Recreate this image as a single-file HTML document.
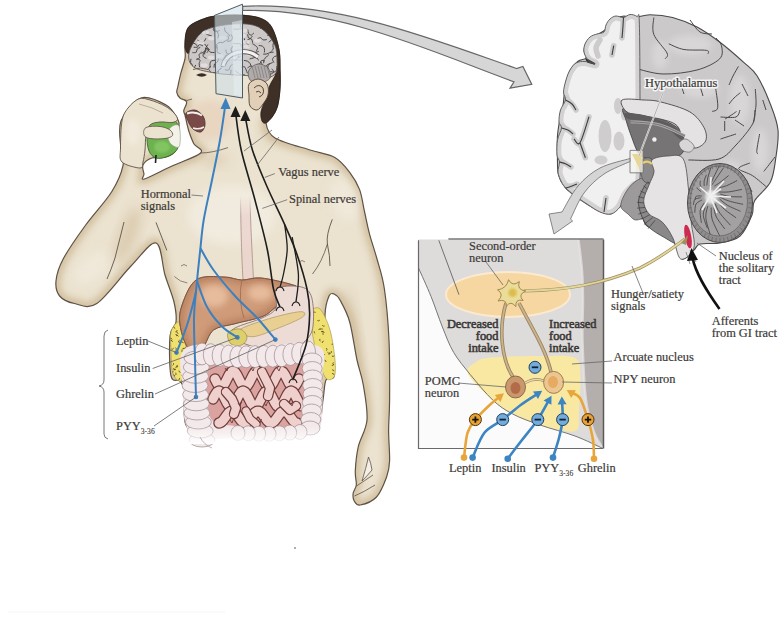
<!DOCTYPE html>
<html><head><meta charset="utf-8">
<style>
html,body{margin:0;padding:0;background:#fff;}
body{width:782px;height:644px;overflow:hidden;position:relative;}
svg{position:absolute;left:0;top:0;}
text{font-family:"Liberation Serif",serif;fill:#3c3a38;}
</style></head><body>
<svg width="782" height="644" viewBox="0 0 782 644">
<defs><filter id="blur3" x="-20%" y="-20%" width="140%" height="140%"><feGaussianBlur stdDeviation="3"/></filter><filter id="blur1"><feGaussianBlur stdDeviation="1"/></filter><linearGradient id="fade" x1="0" y1="0" x2="0" y2="1"><stop offset="0" stop-color="#fff" stop-opacity="0"/><stop offset="1" stop-color="#fff" stop-opacity="1"/></linearGradient></defs>
<clipPath id="silclip"><path d="M185.0,50.0 C185.0,52.3 185.7,54.9 185.0,58.7 C184.3,62.5 182.2,68.2 181.0,72.7 C179.8,77.2 178.7,82.7 178.0,86.0 C177.3,89.3 176.5,90.3 176.8,92.3 C177.1,94.3 178.4,96.4 180.0,98.0 C181.6,99.6 186.0,99.9 186.6,102.0 C187.2,104.1 184.1,108.3 183.8,110.5 C183.5,112.7 184.5,112.8 185.0,115.0 C185.5,117.2 186.3,121.0 187.0,124.0 C187.7,127.0 188.2,129.6 189.4,132.9 C190.6,136.2 192.1,140.7 194.0,144.0 C195.9,147.3 204.3,149.3 200.6,153.0 C196.9,156.7 181.4,161.7 172.0,166.0 C162.6,170.3 149.1,177.7 144.4,179.0 C139.7,180.3 144.2,176.3 144.0,174.0 C143.8,171.7 141.7,167.7 143.0,165.0 C144.3,162.3 148.2,159.3 152.0,158.0 C155.8,156.7 162.0,158.3 166.0,157.0 C170.0,155.7 173.8,154.8 176.0,150.0 C178.2,145.2 178.8,133.3 179.0,128.0 C179.2,122.7 179.2,121.8 177.0,118.0 C174.8,114.2 172.0,108.3 166.0,105.0 C160.0,101.7 148.5,95.3 141.0,98.0 C133.5,100.7 124.3,112.5 121.0,121.0 C117.7,129.5 120.7,141.6 121.0,149.0 C121.3,156.4 124.5,158.5 123.0,165.6 C121.5,172.7 117.9,181.8 111.7,191.7 C105.5,201.6 93.8,213.8 85.7,225.0 C77.6,236.2 68.2,249.5 63.3,258.8 C58.3,268.1 56.6,274.8 56.0,281.0 C55.4,287.2 56.5,292.2 59.6,296.0 C62.7,299.8 68.3,302.2 74.5,303.5 C80.7,304.8 87.4,309.8 96.8,303.5 C106.2,297.2 121.1,276.1 131.0,266.0 C140.9,255.9 150.3,241.5 156.0,243.0 C161.7,244.5 162.0,265.2 165.0,275.0 C168.0,284.8 172.2,294.2 174.0,302.0 C175.8,309.8 176.7,316.3 176.0,322.0 C175.3,327.7 170.8,327.0 170.0,336.0 C169.2,345.0 169.3,368.5 171.0,376.0 C172.7,383.5 177.8,378.3 180.0,381.0 C182.2,383.7 183.0,384.7 184.0,392.0 C185.0,399.3 182.5,417.7 186.0,425.0 C189.5,432.3 194.3,434.5 205.0,436.0 C215.7,437.5 234.2,434.3 250.0,434.0 C265.8,433.7 288.7,435.0 300.0,434.0 C311.3,433.0 314.2,433.7 318.0,428.0 C321.8,422.3 321.7,408.0 323.0,400.0 C324.3,392.0 324.2,384.0 326.0,380.0 C327.8,376.0 333.8,380.7 334.0,376.0 C334.2,371.3 328.5,362.2 327.0,352.0 C325.5,341.8 324.7,324.3 325.0,315.0 C325.3,305.7 327.5,299.5 329.0,296.0 C330.5,292.5 332.2,293.3 334.0,294.0 C335.8,294.7 337.4,295.3 340.0,300.0 C342.6,304.7 346.9,312.0 349.7,322.0 C352.5,332.0 354.7,349.5 357.0,360.0 C359.3,370.5 361.6,375.0 363.3,385.0 C365.0,395.0 367.8,409.7 367.0,420.0 C366.2,430.3 360.2,438.2 358.3,446.7 C356.4,455.2 355.6,464.6 355.3,471.0 C355.0,477.4 356.7,481.3 356.3,485.0 C355.9,488.7 353.6,490.3 353.2,493.0 C352.8,495.7 353.0,499.0 354.2,501.0 C355.4,503.0 356.6,505.7 360.3,505.0 C364.0,504.3 372.1,501.7 376.5,497.0 C380.9,492.3 384.4,483.0 386.6,477.0 C388.8,471.0 389.3,468.6 389.6,460.8 C389.9,453.1 388.6,440.6 388.6,430.5 C388.6,420.4 389.5,415.1 389.6,400.0 C389.7,384.9 389.9,358.5 389.0,340.0 C388.1,321.5 386.4,302.5 384.4,289.0 C382.4,275.5 379.5,268.1 377.0,259.0 C374.5,249.9 371.7,242.1 369.6,234.3 C367.5,226.5 366.3,219.4 364.6,212.0 C362.9,204.6 362.1,196.2 359.6,189.6 C357.1,183.0 353.8,177.7 349.7,172.3 C345.6,166.9 341.4,161.1 334.8,157.4 C328.2,153.7 320.0,153.2 310.0,150.0 C300.0,146.8 282.3,142.5 275.0,138.0 C267.7,133.5 266.5,126.5 266.0,123.0 C265.5,119.5 270.1,119.8 272.0,117.0 C273.9,114.2 276.2,110.8 277.5,106.0 C278.8,101.2 279.6,94.0 280.0,88.0 C280.4,82.0 280.2,76.3 280.0,70.0 C279.8,63.7 280.3,57.0 279.0,50.0 C277.7,43.0 274.8,33.2 272.0,28.0 C269.2,22.8 266.7,21.1 262.0,19.0 C257.3,16.9 251.7,15.9 244.0,15.4 C236.3,14.9 223.0,15.3 216.0,16.0 C209.0,16.7 206.7,17.6 202.0,19.6 C197.3,21.6 190.8,23.8 188.0,28.0 C185.2,32.2 185.5,41.3 185.0,45.0 C184.5,48.7 185.0,47.7 185.0,50.0Z"/></clipPath>
<path d="M185.0,50.0 C185.0,52.3 185.7,54.9 185.0,58.7 C184.3,62.5 182.2,68.2 181.0,72.7 C179.8,77.2 178.7,82.7 178.0,86.0 C177.3,89.3 176.5,90.3 176.8,92.3 C177.1,94.3 178.4,96.4 180.0,98.0 C181.6,99.6 186.0,99.9 186.6,102.0 C187.2,104.1 184.1,108.3 183.8,110.5 C183.5,112.7 184.5,112.8 185.0,115.0 C185.5,117.2 186.3,121.0 187.0,124.0 C187.7,127.0 188.2,129.6 189.4,132.9 C190.6,136.2 192.1,140.7 194.0,144.0 C195.9,147.3 204.3,149.3 200.6,153.0 C196.9,156.7 181.4,161.7 172.0,166.0 C162.6,170.3 149.1,177.7 144.4,179.0 C139.7,180.3 144.2,176.3 144.0,174.0 C143.8,171.7 141.7,167.7 143.0,165.0 C144.3,162.3 148.2,159.3 152.0,158.0 C155.8,156.7 162.0,158.3 166.0,157.0 C170.0,155.7 173.8,154.8 176.0,150.0 C178.2,145.2 178.8,133.3 179.0,128.0 C179.2,122.7 179.2,121.8 177.0,118.0 C174.8,114.2 172.0,108.3 166.0,105.0 C160.0,101.7 148.5,95.3 141.0,98.0 C133.5,100.7 124.3,112.5 121.0,121.0 C117.7,129.5 120.7,141.6 121.0,149.0 C121.3,156.4 124.5,158.5 123.0,165.6 C121.5,172.7 117.9,181.8 111.7,191.7 C105.5,201.6 93.8,213.8 85.7,225.0 C77.6,236.2 68.2,249.5 63.3,258.8 C58.3,268.1 56.6,274.8 56.0,281.0 C55.4,287.2 56.5,292.2 59.6,296.0 C62.7,299.8 68.3,302.2 74.5,303.5 C80.7,304.8 87.4,309.8 96.8,303.5 C106.2,297.2 121.1,276.1 131.0,266.0 C140.9,255.9 150.3,241.5 156.0,243.0 C161.7,244.5 162.0,265.2 165.0,275.0 C168.0,284.8 172.2,294.2 174.0,302.0 C175.8,309.8 176.7,316.3 176.0,322.0 C175.3,327.7 170.8,327.0 170.0,336.0 C169.2,345.0 169.3,368.5 171.0,376.0 C172.7,383.5 177.8,378.3 180.0,381.0 C182.2,383.7 183.0,384.7 184.0,392.0 C185.0,399.3 182.5,417.7 186.0,425.0 C189.5,432.3 194.3,434.5 205.0,436.0 C215.7,437.5 234.2,434.3 250.0,434.0 C265.8,433.7 288.7,435.0 300.0,434.0 C311.3,433.0 314.2,433.7 318.0,428.0 C321.8,422.3 321.7,408.0 323.0,400.0 C324.3,392.0 324.2,384.0 326.0,380.0 C327.8,376.0 333.8,380.7 334.0,376.0 C334.2,371.3 328.5,362.2 327.0,352.0 C325.5,341.8 324.7,324.3 325.0,315.0 C325.3,305.7 327.5,299.5 329.0,296.0 C330.5,292.5 332.2,293.3 334.0,294.0 C335.8,294.7 337.4,295.3 340.0,300.0 C342.6,304.7 346.9,312.0 349.7,322.0 C352.5,332.0 354.7,349.5 357.0,360.0 C359.3,370.5 361.6,375.0 363.3,385.0 C365.0,395.0 367.8,409.7 367.0,420.0 C366.2,430.3 360.2,438.2 358.3,446.7 C356.4,455.2 355.6,464.6 355.3,471.0 C355.0,477.4 356.7,481.3 356.3,485.0 C355.9,488.7 353.6,490.3 353.2,493.0 C352.8,495.7 353.0,499.0 354.2,501.0 C355.4,503.0 356.6,505.7 360.3,505.0 C364.0,504.3 372.1,501.7 376.5,497.0 C380.9,492.3 384.4,483.0 386.6,477.0 C388.8,471.0 389.3,468.6 389.6,460.8 C389.9,453.1 388.6,440.6 388.6,430.5 C388.6,420.4 389.5,415.1 389.6,400.0 C389.7,384.9 389.9,358.5 389.0,340.0 C388.1,321.5 386.4,302.5 384.4,289.0 C382.4,275.5 379.5,268.1 377.0,259.0 C374.5,249.9 371.7,242.1 369.6,234.3 C367.5,226.5 366.3,219.4 364.6,212.0 C362.9,204.6 362.1,196.2 359.6,189.6 C357.1,183.0 353.8,177.7 349.7,172.3 C345.6,166.9 341.4,161.1 334.8,157.4 C328.2,153.7 320.0,153.2 310.0,150.0 C300.0,146.8 282.3,142.5 275.0,138.0 C267.7,133.5 266.5,126.5 266.0,123.0 C265.5,119.5 270.1,119.8 272.0,117.0 C273.9,114.2 276.2,110.8 277.5,106.0 C278.8,101.2 279.6,94.0 280.0,88.0 C280.4,82.0 280.2,76.3 280.0,70.0 C279.8,63.7 280.3,57.0 279.0,50.0 C277.7,43.0 274.8,33.2 272.0,28.0 C269.2,22.8 266.7,21.1 262.0,19.0 C257.3,16.9 251.7,15.9 244.0,15.4 C236.3,14.9 223.0,15.3 216.0,16.0 C209.0,16.7 206.7,17.6 202.0,19.6 C197.3,21.6 190.8,23.8 188.0,28.0 C185.2,32.2 185.5,41.3 185.0,45.0 C184.5,48.7 185.0,47.7 185.0,50.0Z" fill="#ebe2cf" stroke="none" stroke-width="1"/>
<filter id="blur6" x="-50%" y="-50%" width="200%" height="200%"><feGaussianBlur stdDeviation="6"/></filter>
<g clip-path="url(#silclip)"><path d="M185.0,50.0 C185.0,52.3 185.7,54.9 185.0,58.7 C184.3,62.5 182.2,68.2 181.0,72.7 C179.8,77.2 178.7,82.7 178.0,86.0 C177.3,89.3 176.5,90.3 176.8,92.3 C177.1,94.3 178.4,96.4 180.0,98.0 C181.6,99.6 186.0,99.9 186.6,102.0 C187.2,104.1 184.1,108.3 183.8,110.5 C183.5,112.7 184.5,112.8 185.0,115.0 C185.5,117.2 186.3,121.0 187.0,124.0 C187.7,127.0 188.2,129.6 189.4,132.9 C190.6,136.2 192.1,140.7 194.0,144.0 C195.9,147.3 204.3,149.3 200.6,153.0 C196.9,156.7 181.4,161.7 172.0,166.0 C162.6,170.3 149.1,177.7 144.4,179.0 C139.7,180.3 144.2,176.3 144.0,174.0 C143.8,171.7 141.7,167.7 143.0,165.0 C144.3,162.3 148.2,159.3 152.0,158.0 C155.8,156.7 162.0,158.3 166.0,157.0 C170.0,155.7 173.8,154.8 176.0,150.0 C178.2,145.2 178.8,133.3 179.0,128.0 C179.2,122.7 179.2,121.8 177.0,118.0 C174.8,114.2 172.0,108.3 166.0,105.0 C160.0,101.7 148.5,95.3 141.0,98.0 C133.5,100.7 124.3,112.5 121.0,121.0 C117.7,129.5 120.7,141.6 121.0,149.0 C121.3,156.4 124.5,158.5 123.0,165.6 C121.5,172.7 117.9,181.8 111.7,191.7 C105.5,201.6 93.8,213.8 85.7,225.0 C77.6,236.2 68.2,249.5 63.3,258.8 C58.3,268.1 56.6,274.8 56.0,281.0 C55.4,287.2 56.5,292.2 59.6,296.0 C62.7,299.8 68.3,302.2 74.5,303.5 C80.7,304.8 87.4,309.8 96.8,303.5 C106.2,297.2 121.1,276.1 131.0,266.0 C140.9,255.9 150.3,241.5 156.0,243.0 C161.7,244.5 162.0,265.2 165.0,275.0 C168.0,284.8 172.2,294.2 174.0,302.0 C175.8,309.8 176.7,316.3 176.0,322.0 C175.3,327.7 170.8,327.0 170.0,336.0 C169.2,345.0 169.3,368.5 171.0,376.0 C172.7,383.5 177.8,378.3 180.0,381.0 C182.2,383.7 183.0,384.7 184.0,392.0 C185.0,399.3 182.5,417.7 186.0,425.0 C189.5,432.3 194.3,434.5 205.0,436.0 C215.7,437.5 234.2,434.3 250.0,434.0 C265.8,433.7 288.7,435.0 300.0,434.0 C311.3,433.0 314.2,433.7 318.0,428.0 C321.8,422.3 321.7,408.0 323.0,400.0 C324.3,392.0 324.2,384.0 326.0,380.0 C327.8,376.0 333.8,380.7 334.0,376.0 C334.2,371.3 328.5,362.2 327.0,352.0 C325.5,341.8 324.7,324.3 325.0,315.0 C325.3,305.7 327.5,299.5 329.0,296.0 C330.5,292.5 332.2,293.3 334.0,294.0 C335.8,294.7 337.4,295.3 340.0,300.0 C342.6,304.7 346.9,312.0 349.7,322.0 C352.5,332.0 354.7,349.5 357.0,360.0 C359.3,370.5 361.6,375.0 363.3,385.0 C365.0,395.0 367.8,409.7 367.0,420.0 C366.2,430.3 360.2,438.2 358.3,446.7 C356.4,455.2 355.6,464.6 355.3,471.0 C355.0,477.4 356.7,481.3 356.3,485.0 C355.9,488.7 353.6,490.3 353.2,493.0 C352.8,495.7 353.0,499.0 354.2,501.0 C355.4,503.0 356.6,505.7 360.3,505.0 C364.0,504.3 372.1,501.7 376.5,497.0 C380.9,492.3 384.4,483.0 386.6,477.0 C388.8,471.0 389.3,468.6 389.6,460.8 C389.9,453.1 388.6,440.6 388.6,430.5 C388.6,420.4 389.5,415.1 389.6,400.0 C389.7,384.9 389.9,358.5 389.0,340.0 C388.1,321.5 386.4,302.5 384.4,289.0 C382.4,275.5 379.5,268.1 377.0,259.0 C374.5,249.9 371.7,242.1 369.6,234.3 C367.5,226.5 366.3,219.4 364.6,212.0 C362.9,204.6 362.1,196.2 359.6,189.6 C357.1,183.0 353.8,177.7 349.7,172.3 C345.6,166.9 341.4,161.1 334.8,157.4 C328.2,153.7 320.0,153.2 310.0,150.0 C300.0,146.8 282.3,142.5 275.0,138.0 C267.7,133.5 266.5,126.5 266.0,123.0 C265.5,119.5 270.1,119.8 272.0,117.0 C273.9,114.2 276.2,110.8 277.5,106.0 C278.8,101.2 279.6,94.0 280.0,88.0 C280.4,82.0 280.2,76.3 280.0,70.0 C279.8,63.7 280.3,57.0 279.0,50.0 C277.7,43.0 274.8,33.2 272.0,28.0 C269.2,22.8 266.7,21.1 262.0,19.0 C257.3,16.9 251.7,15.9 244.0,15.4 C236.3,14.9 223.0,15.3 216.0,16.0 C209.0,16.7 206.7,17.6 202.0,19.6 C197.3,21.6 190.8,23.8 188.0,28.0 C185.2,32.2 185.5,41.3 185.0,45.0 C184.5,48.7 185.0,47.7 185.0,50.0Z" fill="none" stroke="#cdb996" stroke-width="10" filter="url(#blur3)" opacity="0.8"/>
<ellipse cx="232" cy="215" rx="45" ry="30" transform="rotate(0 232 215)" fill="#f3eee3" opacity="0.8" filter="url(#blur6)"/>
<ellipse cx="345" cy="200" rx="14" ry="22" transform="rotate(-20 345 200)" fill="#f2ece0" opacity="0.7" filter="url(#blur6)"/>
<ellipse cx="92" cy="268" rx="22" ry="12" transform="rotate(-40 92 268)" fill="#f2ece0" opacity="0.7" filter="url(#blur6)"/>
<ellipse cx="135" cy="140" rx="10" ry="18" transform="rotate(0 135 140)" fill="#f2ece0" opacity="0.5" filter="url(#blur6)"/>
<ellipse cx="128" cy="235" rx="8" ry="30" transform="rotate(20 128 235)" fill="#cdb894" opacity="0.55" filter="url(#blur6)"/>
<ellipse cx="352" cy="330" rx="6" ry="40" transform="rotate(-8 352 330)" fill="#cdb894" opacity="0.5" filter="url(#blur6)"/>
<ellipse cx="214" cy="160" rx="14" ry="6" transform="rotate(0 214 160)" fill="#d2bf9e" opacity="0.5" filter="url(#blur6)"/>
<ellipse cx="270" cy="132" rx="8" ry="10" transform="rotate(0 270 132)" fill="#d2bf9e" opacity="0.4" filter="url(#blur6)"/>
</g>
<ellipse cx="210" cy="120" rx="22" ry="20" fill="#e6c8b0" opacity="0.45" filter="url(#blur3)"/>
<path d="M185.0,50.0 C185.0,52.3 185.7,54.9 185.0,58.7 C184.3,62.5 182.2,68.2 181.0,72.7 C179.8,77.2 178.7,82.7 178.0,86.0 C177.3,89.3 176.5,90.3 176.8,92.3 C177.1,94.3 178.4,96.4 180.0,98.0 C181.6,99.6 186.0,99.9 186.6,102.0 C187.2,104.1 184.1,108.3 183.8,110.5 C183.5,112.7 184.5,112.8 185.0,115.0 C185.5,117.2 186.3,121.0 187.0,124.0 C187.7,127.0 188.2,129.6 189.4,132.9 C190.6,136.2 192.1,140.7 194.0,144.0 C195.9,147.3 204.3,149.3 200.6,153.0 C196.9,156.7 181.4,161.7 172.0,166.0 C162.6,170.3 149.1,177.7 144.4,179.0 C139.7,180.3 144.2,176.3 144.0,174.0 C143.8,171.7 141.7,167.7 143.0,165.0 C144.3,162.3 148.2,159.3 152.0,158.0 C155.8,156.7 162.0,158.3 166.0,157.0 C170.0,155.7 173.8,154.8 176.0,150.0 C178.2,145.2 178.8,133.3 179.0,128.0 C179.2,122.7 179.2,121.8 177.0,118.0 C174.8,114.2 172.0,108.3 166.0,105.0 C160.0,101.7 148.5,95.3 141.0,98.0 C133.5,100.7 124.3,112.5 121.0,121.0 C117.7,129.5 120.7,141.6 121.0,149.0 C121.3,156.4 124.5,158.5 123.0,165.6 C121.5,172.7 117.9,181.8 111.7,191.7 C105.5,201.6 93.8,213.8 85.7,225.0 C77.6,236.2 68.2,249.5 63.3,258.8 C58.3,268.1 56.6,274.8 56.0,281.0 C55.4,287.2 56.5,292.2 59.6,296.0 C62.7,299.8 68.3,302.2 74.5,303.5 C80.7,304.8 87.4,309.8 96.8,303.5 C106.2,297.2 121.1,276.1 131.0,266.0 C140.9,255.9 150.3,241.5 156.0,243.0 C161.7,244.5 162.0,265.2 165.0,275.0 C168.0,284.8 172.2,294.2 174.0,302.0 C175.8,309.8 176.7,316.3 176.0,322.0 C175.3,327.7 170.8,327.0 170.0,336.0 C169.2,345.0 169.3,368.5 171.0,376.0 C172.7,383.5 177.8,378.3 180.0,381.0 C182.2,383.7 183.0,384.7 184.0,392.0 C185.0,399.3 182.5,417.7 186.0,425.0 C189.5,432.3 194.3,434.5 205.0,436.0 C215.7,437.5 234.2,434.3 250.0,434.0 C265.8,433.7 288.7,435.0 300.0,434.0 C311.3,433.0 314.2,433.7 318.0,428.0 C321.8,422.3 321.7,408.0 323.0,400.0 C324.3,392.0 324.2,384.0 326.0,380.0 C327.8,376.0 333.8,380.7 334.0,376.0 C334.2,371.3 328.5,362.2 327.0,352.0 C325.5,341.8 324.7,324.3 325.0,315.0 C325.3,305.7 327.5,299.5 329.0,296.0 C330.5,292.5 332.2,293.3 334.0,294.0 C335.8,294.7 337.4,295.3 340.0,300.0 C342.6,304.7 346.9,312.0 349.7,322.0 C352.5,332.0 354.7,349.5 357.0,360.0 C359.3,370.5 361.6,375.0 363.3,385.0 C365.0,395.0 367.8,409.7 367.0,420.0 C366.2,430.3 360.2,438.2 358.3,446.7 C356.4,455.2 355.6,464.6 355.3,471.0 C355.0,477.4 356.7,481.3 356.3,485.0 C355.9,488.7 353.6,490.3 353.2,493.0 C352.8,495.7 353.0,499.0 354.2,501.0 C355.4,503.0 356.6,505.7 360.3,505.0 C364.0,504.3 372.1,501.7 376.5,497.0 C380.9,492.3 384.4,483.0 386.6,477.0 C388.8,471.0 389.3,468.6 389.6,460.8 C389.9,453.1 388.6,440.6 388.6,430.5 C388.6,420.4 389.5,415.1 389.6,400.0 C389.7,384.9 389.9,358.5 389.0,340.0 C388.1,321.5 386.4,302.5 384.4,289.0 C382.4,275.5 379.5,268.1 377.0,259.0 C374.5,249.9 371.7,242.1 369.6,234.3 C367.5,226.5 366.3,219.4 364.6,212.0 C362.9,204.6 362.1,196.2 359.6,189.6 C357.1,183.0 353.8,177.7 349.7,172.3 C345.6,166.9 341.4,161.1 334.8,157.4 C328.2,153.7 320.0,153.2 310.0,150.0 C300.0,146.8 282.3,142.5 275.0,138.0 C267.7,133.5 266.5,126.5 266.0,123.0 C265.5,119.5 270.1,119.8 272.0,117.0 C273.9,114.2 276.2,110.8 277.5,106.0 C278.8,101.2 279.6,94.0 280.0,88.0 C280.4,82.0 280.2,76.3 280.0,70.0 C279.8,63.7 280.3,57.0 279.0,50.0 C277.7,43.0 274.8,33.2 272.0,28.0 C269.2,22.8 266.7,21.1 262.0,19.0 C257.3,16.9 251.7,15.9 244.0,15.4 C236.3,14.9 223.0,15.3 216.0,16.0 C209.0,16.7 206.7,17.6 202.0,19.6 C197.3,21.6 190.8,23.8 188.0,28.0 C185.2,32.2 185.5,41.3 185.0,45.0 C184.5,48.7 185.0,47.7 185.0,50.0Z" fill="none" stroke="#5e5246" stroke-width="1.2"/>
<rect x="168" y="428" width="170" height="20" fill="url(#fade)"/>
<path d="M266.0,123.0 C267.7,122.3 270.1,119.8 272.0,117.0 C273.9,114.2 276.2,110.8 277.5,106.0 C278.8,101.2 279.6,94.0 280.0,88.0 C280.4,82.0 280.2,76.3 280.0,70.0 C279.8,63.7 280.3,57.0 279.0,50.0 C277.7,43.0 274.8,33.2 272.0,28.0 C269.2,22.8 266.7,21.1 262.0,19.0 C257.3,16.9 251.7,15.9 244.0,15.4 C236.3,14.9 223.0,15.3 216.0,16.0 C209.0,16.7 206.7,17.6 202.0,19.6 C197.3,21.6 190.8,23.8 188.0,28.0 C185.2,32.2 184.8,40.8 185.0,45.0 C185.2,49.2 186.5,54.8 189.0,53.0 C191.5,51.2 195.5,38.4 200.0,34.0 C204.5,29.6 208.7,28.3 216.0,26.6 C223.3,24.9 236.3,23.6 244.0,24.0 C251.7,24.4 257.3,26.3 262.0,29.0 C266.7,31.7 269.5,35.7 272.0,40.0 C274.5,44.3 276.3,49.5 277.0,55.0 C277.7,60.5 277.2,68.0 276.0,73.0 C274.8,78.0 271.8,80.5 270.0,85.0 C268.2,89.5 266.5,95.5 265.0,100.0 C263.5,104.5 261.5,108.5 261.0,112.0 C260.5,115.5 261.2,119.2 262.0,121.0 C262.8,122.8 264.3,123.7 266.0,123.0Z" fill="#3f3027" stroke="#2a201a" stroke-width="0.8"/>
<path d="M189.0,53.0 C190.1,47.5 195.5,38.4 200.0,34.0 C204.5,29.6 208.7,28.3 216.0,26.6 C223.3,24.9 236.3,23.4 244.0,23.8 C251.7,24.2 256.9,25.5 262.0,29.0 C267.1,32.5 272.2,39.6 274.7,44.8 C277.2,50.0 276.8,55.4 277.0,60.0 C277.2,64.7 277.5,69.7 276.0,72.7 C274.5,75.7 271.0,76.8 268.0,78.0 C265.0,79.2 261.0,80.3 258.0,80.0 C255.0,79.7 253.8,76.8 250.0,76.0 C246.2,75.2 240.8,75.5 235.0,75.0 C229.2,74.5 221.9,74.3 215.0,73.0 C208.1,71.7 197.9,70.3 193.6,67.0 C189.3,63.7 187.9,58.5 189.0,53.0Z" fill="#cdc8c8" stroke="#4e4a4a" stroke-width="0.8"/>
<clipPath id="hbclip"><path d="M189.0,53.0 C190.1,47.5 195.5,38.4 200.0,34.0 C204.5,29.6 208.7,28.3 216.0,26.6 C223.3,24.9 236.3,23.4 244.0,23.8 C251.7,24.2 256.9,25.5 262.0,29.0 C267.1,32.5 272.2,39.6 274.7,44.8 C277.2,50.0 276.8,55.4 277.0,60.0 C277.2,64.7 277.5,69.7 276.0,72.7 C274.5,75.7 271.0,76.8 268.0,78.0 C265.0,79.2 261.0,80.3 258.0,80.0 C255.0,79.7 253.8,76.8 250.0,76.0 C246.2,75.2 240.8,75.5 235.0,75.0 C229.2,74.5 221.9,74.3 215.0,73.0 C208.1,71.7 197.9,70.3 193.6,67.0 C189.3,63.7 187.9,58.5 189.0,53.0Z"/></clipPath>
<g clip-path="url(#hbclip)">
<path d="M189.0,29.4 C188.6,29.9 187.0,30.9 186.8,31.9 C186.5,32.8 186.8,34.3 187.4,35.1 C188.0,35.9 189.8,36.4 190.3,36.7" fill="none" stroke="#4a4444" stroke-width="1.0" stroke-linecap="round"/>
<path d="M191.8,36.4 C191.3,36.5 189.7,36.9 188.6,37.0 C187.5,37.1 186.0,36.6 185.3,37.1 C184.6,37.7 184.6,39.8 184.4,40.3" fill="none" stroke="#4a4444" stroke-width="1.0" stroke-linecap="round"/>
<path d="M189.3,46.0 C189.7,45.6 190.7,44.0 191.7,43.7 C192.6,43.3 194.0,43.3 195.0,43.6 C195.9,44.0 196.9,45.6 197.2,46.0" fill="none" stroke="#4a4444" stroke-width="1.0" stroke-linecap="round"/>
<path d="M192.8,52.6 C193.4,52.5 195.4,52.9 196.1,52.4 C196.9,51.8 196.5,50.0 197.1,49.2 C197.7,48.4 199.5,47.8 199.9,47.6" fill="none" stroke="#4a4444" stroke-width="1.0" stroke-linecap="round"/>
<path d="M191.0,59.2 C191.0,59.7 190.4,61.4 190.6,62.5 C190.9,63.5 192.1,64.2 192.4,65.2 C192.7,66.2 192.5,68.0 192.5,68.5" fill="none" stroke="#4a4444" stroke-width="1.0" stroke-linecap="round"/>
<path d="M188.0,67.9 C188.4,68.2 189.6,69.4 190.6,69.9 C191.5,70.5 192.6,71.0 193.6,71.2 C194.7,71.3 196.4,70.7 196.9,70.6" fill="none" stroke="#4a4444" stroke-width="1.0" stroke-linecap="round"/>
<path d="M191.5,74.3 C191.7,73.8 192.3,72.3 192.7,71.3 C193.1,70.2 193.5,69.2 193.9,68.2 C194.4,67.2 195.3,65.8 195.6,65.3" fill="none" stroke="#4a4444" stroke-width="1.0" stroke-linecap="round"/>
<path d="M201.3,27.2 C201.3,26.6 201.4,24.9 201.7,23.9 C201.9,22.8 202.5,21.9 202.9,20.8 C203.4,19.8 204.1,18.3 204.3,17.8" fill="none" stroke="#4a4444" stroke-width="1.0" stroke-linecap="round"/>
<path d="M197.9,34.2 C198.4,34.0 200.1,33.7 201.0,33.0 C201.8,32.4 202.2,31.1 203.0,30.5 C203.9,29.9 205.6,29.6 206.2,29.4" fill="none" stroke="#4a4444" stroke-width="1.0" stroke-linecap="round"/>
<path d="M202.5,45.7 C202.0,45.5 200.2,44.4 199.4,44.6 C198.5,44.9 198.2,46.8 197.3,47.2 C196.4,47.6 194.5,47.2 194.0,47.2" fill="none" stroke="#4a4444" stroke-width="1.0" stroke-linecap="round"/>
<path d="M201.8,53.1 C202.2,52.8 203.8,52.1 204.6,51.3 C205.3,50.6 205.4,48.8 206.2,48.5 C207.0,48.2 208.8,49.3 209.3,49.5" fill="none" stroke="#4a4444" stroke-width="1.0" stroke-linecap="round"/>
<path d="M196.7,59.6 C197.2,59.4 199.2,58.8 199.6,58.0 C200.0,57.2 198.8,55.7 199.1,54.8 C199.4,53.8 201.0,52.7 201.4,52.3" fill="none" stroke="#4a4444" stroke-width="1.0" stroke-linecap="round"/>
<path d="M199.5,66.6 C199.4,66.0 199.1,64.4 199.2,63.3 C199.3,62.2 200.4,60.9 200.0,60.1 C199.7,59.3 197.6,58.8 197.1,58.6" fill="none" stroke="#4a4444" stroke-width="1.0" stroke-linecap="round"/>
<path d="M202.2,75.8 C201.8,75.5 200.6,74.4 199.8,73.6 C199.0,72.8 198.3,71.9 197.5,71.2 C196.6,70.6 195.0,70.0 194.6,69.7" fill="none" stroke="#4a4444" stroke-width="1.0" stroke-linecap="round"/>
<path d="M205.9,30.1 C205.8,30.6 204.9,32.5 205.3,33.3 C205.7,34.1 207.2,34.5 208.2,34.9 C209.3,35.3 210.9,35.7 211.4,35.9" fill="none" stroke="#4a4444" stroke-width="1.0" stroke-linecap="round"/>
<path d="M205.7,38.6 C205.5,39.1 204.9,40.9 204.0,41.4 C203.2,42.0 201.8,42.1 200.7,41.9 C199.7,41.7 198.3,40.6 197.8,40.3" fill="none" stroke="#4a4444" stroke-width="1.0" stroke-linecap="round"/>
<path d="M207.7,44.8 C207.4,45.2 206.4,46.6 206.0,47.6 C205.6,48.6 205.5,49.7 205.2,50.8 C205.0,51.8 204.7,53.5 204.6,54.0" fill="none" stroke="#4a4444" stroke-width="1.0" stroke-linecap="round"/>
<path d="M207.1,52.4 C207.3,52.0 208.8,50.5 208.8,49.6 C208.8,48.7 207.6,47.8 206.9,46.9 C206.2,46.0 205.2,44.7 204.9,44.3" fill="none" stroke="#4a4444" stroke-width="1.0" stroke-linecap="round"/>
<path d="M206.1,58.2 C205.7,57.9 203.7,57.3 203.3,56.4 C202.9,55.6 203.1,54.1 203.6,53.2 C204.0,52.2 205.7,51.4 206.1,51.0" fill="none" stroke="#4a4444" stroke-width="1.0" stroke-linecap="round"/>
<path d="M210.2,67.2 C210.2,66.6 209.8,64.9 210.0,63.9 C210.2,62.8 210.6,61.4 211.4,60.9 C212.1,60.3 214.1,60.5 214.6,60.4" fill="none" stroke="#4a4444" stroke-width="1.0" stroke-linecap="round"/>
<path d="M209.7,75.0 C209.8,74.5 210.5,72.8 210.3,71.8 C210.1,70.8 208.6,69.9 208.7,68.9 C208.7,68.0 210.3,66.7 210.6,66.3" fill="none" stroke="#4a4444" stroke-width="1.0" stroke-linecap="round"/>
<path d="M219.3,30.5 C218.8,30.7 217.3,31.8 216.3,31.7 C215.3,31.7 213.7,30.9 213.4,30.1 C213.0,29.3 214.0,27.5 214.2,26.9" fill="none" stroke="#4a4444" stroke-width="1.0" stroke-linecap="round"/>
<path d="M218.0,37.8 C218.1,37.3 218.6,35.6 218.4,34.5 C218.3,33.5 217.8,32.3 217.1,31.5 C216.5,30.7 214.9,29.9 214.5,29.5" fill="none" stroke="#4a4444" stroke-width="1.0" stroke-linecap="round"/>
<path d="M217.0,45.6 C217.0,46.2 217.3,47.8 217.3,48.9 C217.4,50.0 216.7,51.4 217.2,52.2 C217.7,53.0 219.7,53.4 220.2,53.6" fill="none" stroke="#4a4444" stroke-width="1.0" stroke-linecap="round"/>
<path d="M214.2,52.4 C213.7,52.4 211.9,52.7 210.9,52.4 C210.0,52.0 209.3,51.0 208.4,50.3 C207.5,49.7 206.1,48.8 205.6,48.5" fill="none" stroke="#4a4444" stroke-width="1.0" stroke-linecap="round"/>
<path d="M218.5,59.0 C218.3,59.5 217.9,61.2 217.2,62.1 C216.6,62.9 215.0,63.1 214.5,64.0 C214.0,64.8 214.2,66.7 214.1,67.2" fill="none" stroke="#4a4444" stroke-width="1.0" stroke-linecap="round"/>
<path d="M219.0,70.4 C218.6,70.8 217.4,72.0 216.4,72.4 C215.4,72.8 214.0,72.4 213.1,72.8 C212.2,73.3 211.2,74.8 210.8,75.2" fill="none" stroke="#4a4444" stroke-width="1.0" stroke-linecap="round"/>
<path d="M216.0,75.8 C216.3,75.4 217.8,74.4 218.2,73.4 C218.7,72.5 218.0,71.0 218.5,70.2 C219.0,69.3 220.9,68.8 221.3,68.5" fill="none" stroke="#4a4444" stroke-width="1.0" stroke-linecap="round"/>
<path d="M224.7,27.9 C224.8,28.5 224.5,30.3 225.0,31.2 C225.5,32.1 226.9,32.4 227.7,33.2 C228.5,33.9 229.4,35.3 229.7,35.8" fill="none" stroke="#4a4444" stroke-width="1.0" stroke-linecap="round"/>
<path d="M228.0,35.9 C228.1,36.5 228.9,38.4 228.5,39.2 C228.1,40.0 226.6,40.2 225.6,40.8 C224.7,41.4 223.4,42.3 222.9,42.6" fill="none" stroke="#4a4444" stroke-width="1.0" stroke-linecap="round"/>
<path d="M222.2,42.5 C221.6,42.5 219.8,42.3 218.9,42.7 C217.9,43.1 216.7,43.9 216.3,44.8 C215.9,45.7 216.4,47.5 216.4,48.1" fill="none" stroke="#4a4444" stroke-width="1.0" stroke-linecap="round"/>
<path d="M226.3,55.0 C226.2,55.5 225.4,57.2 225.6,58.2 C225.9,59.2 227.6,59.9 227.7,60.8 C227.7,61.7 226.1,63.0 225.7,63.5" fill="none" stroke="#4a4444" stroke-width="1.0" stroke-linecap="round"/>
<path d="M225.0,60.5 C225.2,60.9 226.6,62.5 226.5,63.4 C226.4,64.3 225.2,65.3 224.3,65.8 C223.4,66.4 221.7,66.6 221.1,66.7" fill="none" stroke="#4a4444" stroke-width="1.0" stroke-linecap="round"/>
<path d="M225.3,69.7 C225.8,69.8 227.8,70.6 228.6,70.1 C229.3,69.7 229.3,68.0 229.9,67.1 C230.4,66.2 231.7,65.0 232.0,64.6" fill="none" stroke="#4a4444" stroke-width="1.0" stroke-linecap="round"/>
<path d="M223.3,77.0 C222.9,76.8 221.3,75.2 220.5,75.4 C219.6,75.5 219.1,77.1 218.3,77.9 C217.5,78.6 216.2,79.7 215.8,80.0" fill="none" stroke="#4a4444" stroke-width="1.0" stroke-linecap="round"/>
<path d="M233.8,29.1 C234.4,29.1 236.0,29.3 237.1,29.3 C238.2,29.3 239.6,28.6 240.4,29.1 C241.3,29.5 241.8,31.4 242.1,31.9" fill="none" stroke="#4a4444" stroke-width="1.0" stroke-linecap="round"/>
<path d="M231.6,34.9 C231.7,35.4 232.6,37.0 232.5,38.0 C232.3,39.0 231.6,40.3 230.7,40.8 C229.9,41.4 228.0,41.2 227.5,41.2" fill="none" stroke="#4a4444" stroke-width="1.0" stroke-linecap="round"/>
<path d="M232.6,46.6 C232.3,47.1 231.1,48.5 231.0,49.5 C231.0,50.5 231.7,51.7 232.3,52.6 C232.8,53.6 233.9,54.8 234.3,55.2" fill="none" stroke="#4a4444" stroke-width="1.0" stroke-linecap="round"/>
<path d="M232.6,53.0 C232.1,53.2 230.6,54.4 229.6,54.4 C228.6,54.4 227.2,53.9 226.6,53.1 C225.9,52.4 226.0,50.4 225.9,49.9" fill="none" stroke="#4a4444" stroke-width="1.0" stroke-linecap="round"/>
<path d="M232.3,58.5 C232.8,58.8 234.2,60.4 235.1,60.4 C235.9,60.3 236.6,58.8 237.5,58.1 C238.4,57.5 239.9,56.8 240.3,56.5" fill="none" stroke="#4a4444" stroke-width="1.0" stroke-linecap="round"/>
<path d="M230.9,70.1 C230.9,70.6 231.1,72.4 230.7,73.4 C230.3,74.3 229.4,75.3 228.5,75.8 C227.6,76.2 225.7,76.1 225.2,76.1" fill="none" stroke="#4a4444" stroke-width="1.0" stroke-linecap="round"/>
<path d="M235.2,75.9 C235.7,75.8 237.5,75.3 238.5,75.7 C239.4,76.1 240.1,77.2 240.7,78.1 C241.3,79.1 241.9,80.6 242.1,81.1" fill="none" stroke="#4a4444" stroke-width="1.0" stroke-linecap="round"/>
<path d="M243.1,29.4 C242.7,29.0 241.0,28.2 240.5,27.3 C240.1,26.4 240.6,25.1 240.3,24.0 C240.0,23.0 239.0,21.6 238.7,21.2" fill="none" stroke="#4a4444" stroke-width="1.0" stroke-linecap="round"/>
<path d="M244.4,38.8 C244.5,39.3 244.8,41.1 245.3,42.0 C245.9,42.8 247.1,43.3 247.8,44.1 C248.5,45.0 249.1,46.5 249.4,47.0" fill="none" stroke="#4a4444" stroke-width="1.0" stroke-linecap="round"/>
<path d="M241.4,46.9 C241.3,46.4 241.1,44.4 240.4,43.8 C239.7,43.3 238.2,43.8 237.1,43.7 C236.0,43.6 234.4,43.5 233.8,43.5" fill="none" stroke="#4a4444" stroke-width="1.0" stroke-linecap="round"/>
<path d="M244.8,53.0 C244.2,52.8 242.6,52.1 241.6,52.1 C240.5,52.2 239.0,52.7 238.5,53.4 C238.1,54.2 238.7,56.2 238.7,56.7" fill="none" stroke="#4a4444" stroke-width="1.0" stroke-linecap="round"/>
<path d="M244.3,60.5 C244.8,60.6 246.6,60.7 247.5,61.2 C248.5,61.7 249.4,62.5 250.0,63.4 C250.6,64.2 251.1,65.9 251.3,66.4" fill="none" stroke="#4a4444" stroke-width="1.0" stroke-linecap="round"/>
<path d="M241.3,67.2 C241.8,67.2 243.7,66.4 244.5,66.9 C245.3,67.3 245.6,68.8 246.1,69.8 C246.5,70.8 247.1,72.3 247.3,72.9" fill="none" stroke="#4a4444" stroke-width="1.0" stroke-linecap="round"/>
<path d="M244.3,74.8 C243.7,74.8 242.0,75.2 241.0,75.0 C240.0,74.7 239.1,73.7 238.2,73.1 C237.3,72.5 236.1,71.4 235.6,71.1" fill="none" stroke="#4a4444" stroke-width="1.0" stroke-linecap="round"/>
<path d="M247.9,30.0 C248.0,30.6 247.9,32.4 248.5,33.3 C249.0,34.1 250.3,35.2 251.2,35.2 C252.0,35.1 253.3,33.4 253.7,33.1" fill="none" stroke="#4a4444" stroke-width="1.0" stroke-linecap="round"/>
<path d="M252.1,36.4 C251.8,36.8 250.8,38.2 249.9,38.9 C249.1,39.5 247.6,39.6 247.0,40.4 C246.4,41.2 246.5,43.1 246.4,43.6" fill="none" stroke="#4a4444" stroke-width="1.0" stroke-linecap="round"/>
<path d="M252.5,42.3 C252.4,41.7 252.3,39.8 251.6,39.1 C251.0,38.4 249.2,38.7 248.5,37.9 C247.9,37.2 247.9,35.3 247.8,34.7" fill="none" stroke="#4a4444" stroke-width="1.0" stroke-linecap="round"/>
<path d="M249.0,51.4 C249.6,51.4 251.3,51.0 252.3,51.2 C253.4,51.4 254.3,52.5 255.3,52.5 C256.4,52.6 257.9,51.6 258.4,51.4" fill="none" stroke="#4a4444" stroke-width="1.0" stroke-linecap="round"/>
<path d="M250.0,58.9 C250.5,58.7 252.1,58.2 253.2,58.0 C254.3,57.7 255.6,57.0 256.4,57.4 C257.3,57.7 258.0,59.6 258.3,60.1" fill="none" stroke="#4a4444" stroke-width="1.0" stroke-linecap="round"/>
<path d="M247.9,67.7 C248.4,67.4 249.9,66.0 250.8,66.1 C251.7,66.2 253.1,67.5 253.3,68.3 C253.5,69.2 252.2,70.9 252.0,71.4" fill="none" stroke="#4a4444" stroke-width="1.0" stroke-linecap="round"/>
<path d="M252.9,78.9 C252.4,78.7 251.0,77.7 250.0,77.4 C248.9,77.1 247.7,77.4 246.7,77.2 C245.6,77.0 244.1,76.2 243.6,76.0" fill="none" stroke="#4a4444" stroke-width="1.0" stroke-linecap="round"/>
<path d="M260.5,28.4 C260.4,27.9 259.8,26.2 259.9,25.2 C259.9,24.1 260.9,22.9 260.6,21.9 C260.4,21.0 258.8,19.9 258.4,19.5" fill="none" stroke="#4a4444" stroke-width="1.0" stroke-linecap="round"/>
<path d="M257.5,38.8 C258.0,38.6 259.7,37.5 260.6,37.7 C261.6,37.9 262.1,39.6 263.1,39.9 C264.0,40.2 265.8,39.7 266.4,39.6" fill="none" stroke="#4a4444" stroke-width="1.0" stroke-linecap="round"/>
<path d="M259.2,45.6 C259.7,45.7 261.5,45.6 262.4,46.1 C263.3,46.6 264.1,47.7 264.4,48.7 C264.8,49.7 264.4,51.5 264.4,52.0" fill="none" stroke="#4a4444" stroke-width="1.0" stroke-linecap="round"/>
<path d="M256.2,51.1 C256.4,50.6 257.7,49.0 257.6,48.1 C257.5,47.2 256.2,46.3 255.4,45.6 C254.6,44.9 253.1,44.1 252.7,43.8" fill="none" stroke="#4a4444" stroke-width="1.0" stroke-linecap="round"/>
<path d="M261.0,62.0 C261.2,62.5 262.2,64.1 262.1,65.1 C262.0,66.1 260.8,66.9 260.4,67.9 C260.1,68.9 260.0,70.6 259.9,71.2" fill="none" stroke="#4a4444" stroke-width="1.0" stroke-linecap="round"/>
<path d="M261.3,69.0 C261.8,68.7 263.3,68.0 264.2,67.4 C265.1,66.8 265.8,65.9 266.7,65.3 C267.6,64.6 269.1,64.0 269.6,63.7" fill="none" stroke="#4a4444" stroke-width="1.0" stroke-linecap="round"/>
<path d="M258.6,76.9 C259.0,77.2 260.2,78.6 261.2,78.8 C262.2,79.1 263.8,78.9 264.5,78.3 C265.2,77.6 265.3,75.6 265.4,75.1" fill="none" stroke="#4a4444" stroke-width="1.0" stroke-linecap="round"/>
<path d="M269.6,27.5 C270.1,27.3 271.7,26.1 272.6,26.3 C273.6,26.4 274.3,27.7 275.1,28.4 C276.0,29.2 277.1,30.3 277.5,30.7" fill="none" stroke="#4a4444" stroke-width="1.0" stroke-linecap="round"/>
<path d="M267.7,35.4 C268.3,35.4 269.9,35.6 271.0,35.5 C272.1,35.5 273.2,34.9 274.3,35.0 C275.3,35.0 276.9,35.6 277.5,35.7" fill="none" stroke="#4a4444" stroke-width="1.0" stroke-linecap="round"/>
<path d="M269.1,42.1 C269.5,41.7 270.6,40.4 271.6,39.8 C272.5,39.3 273.9,39.4 274.7,38.8 C275.5,38.2 276.2,36.5 276.4,36.0" fill="none" stroke="#4a4444" stroke-width="1.0" stroke-linecap="round"/>
<path d="M268.6,54.8 C268.2,55.2 267.0,56.3 266.3,57.1 C265.5,57.9 264.4,58.5 264.0,59.5 C263.6,60.4 263.7,62.2 263.7,62.8" fill="none" stroke="#4a4444" stroke-width="1.0" stroke-linecap="round"/>
<path d="M264.6,61.0 C264.1,60.9 262.1,60.1 261.4,60.6 C260.6,61.0 260.8,63.0 260.1,63.6 C259.4,64.3 257.5,64.4 256.9,64.5" fill="none" stroke="#4a4444" stroke-width="1.0" stroke-linecap="round"/>
<path d="M268.4,70.3 C268.3,69.7 267.6,68.0 267.8,67.0 C267.9,66.0 268.5,64.8 269.3,64.1 C270.0,63.4 271.8,62.9 272.3,62.7" fill="none" stroke="#4a4444" stroke-width="1.0" stroke-linecap="round"/>
<path d="M268.0,75.3 C268.5,75.1 270.1,74.6 271.1,74.0 C272.0,73.5 273.5,72.8 273.6,71.9 C273.8,71.1 272.3,69.5 272.0,69.1" fill="none" stroke="#4a4444" stroke-width="1.0" stroke-linecap="round"/>
<path d="M275.4,30.8 C275.3,30.3 274.6,28.7 274.4,27.7 C274.2,26.6 273.6,25.1 274.1,24.4 C274.6,23.7 276.7,23.6 277.3,23.5" fill="none" stroke="#4a4444" stroke-width="1.0" stroke-linecap="round"/>
<path d="M278.4,34.7 C278.9,34.9 280.6,35.4 281.4,36.2 C282.1,36.9 282.8,38.2 282.8,39.2 C282.8,40.2 281.6,41.7 281.4,42.2" fill="none" stroke="#4a4444" stroke-width="1.0" stroke-linecap="round"/>
<path d="M273.6,42.5 C273.5,43.0 272.9,44.6 272.9,45.7 C272.8,46.8 273.6,48.0 273.3,49.0 C273.0,49.9 271.4,50.9 271.1,51.3" fill="none" stroke="#4a4444" stroke-width="1.0" stroke-linecap="round"/>
<path d="M273.2,52.2 C272.6,52.3 270.9,52.3 269.9,52.6 C268.8,52.9 267.9,53.7 266.9,53.9 C265.8,54.2 264.1,54.1 263.6,54.1" fill="none" stroke="#4a4444" stroke-width="1.0" stroke-linecap="round"/>
<path d="M273.8,62.3 C273.6,61.8 272.4,60.3 272.5,59.3 C272.6,58.4 273.6,57.2 274.4,56.6 C275.3,56.0 277.1,55.9 277.6,55.8" fill="none" stroke="#4a4444" stroke-width="1.0" stroke-linecap="round"/>
<path d="M276.9,66.6 C276.9,67.2 277.1,69.0 276.7,69.9 C276.2,70.8 275.1,71.8 274.1,72.0 C273.2,72.3 271.4,71.7 270.8,71.6" fill="none" stroke="#4a4444" stroke-width="1.0" stroke-linecap="round"/>
<path d="M276.2,75.6 C276.4,75.1 276.5,73.1 277.1,72.4 C277.8,71.7 279.3,71.2 280.2,71.4 C281.2,71.6 282.2,73.3 282.6,73.7" fill="none" stroke="#4a4444" stroke-width="1.0" stroke-linecap="round"/>
<ellipse cx="200.8" cy="42.3" rx="3.5" ry="2" fill="#e6e2e2" opacity="0.8"/>
<ellipse cx="242.5" cy="35.8" rx="3.5" ry="2" fill="#e6e2e2" opacity="0.8"/>
<ellipse cx="257.3" cy="40.6" rx="3.5" ry="2" fill="#e6e2e2" opacity="0.8"/>
<ellipse cx="246.2" cy="41.8" rx="3.5" ry="2" fill="#e6e2e2" opacity="0.8"/>
<ellipse cx="211.4" cy="38.3" rx="3.5" ry="2" fill="#e6e2e2" opacity="0.8"/>
<ellipse cx="232.3" cy="58.5" rx="3.5" ry="2" fill="#e6e2e2" opacity="0.8"/>
<ellipse cx="211.3" cy="57.5" rx="3.5" ry="2" fill="#e6e2e2" opacity="0.8"/>
<ellipse cx="220.1" cy="56.0" rx="3.5" ry="2" fill="#e6e2e2" opacity="0.8"/>
<ellipse cx="222.6" cy="37.7" rx="3.5" ry="2" fill="#e6e2e2" opacity="0.8"/>
<ellipse cx="205.6" cy="32.3" rx="3.5" ry="2" fill="#e6e2e2" opacity="0.8"/>
<ellipse cx="247.2" cy="46.5" rx="3.5" ry="2" fill="#e6e2e2" opacity="0.8"/>
<ellipse cx="204.2" cy="65.2" rx="3.5" ry="2" fill="#e6e2e2" opacity="0.8"/>
<ellipse cx="244.1" cy="30.8" rx="3.5" ry="2" fill="#e6e2e2" opacity="0.8"/>
<ellipse cx="249.4" cy="53.8" rx="3.5" ry="2" fill="#e6e2e2" opacity="0.8"/>
</g>
<path d="M249.0,70.0 C250.3,67.3 254.8,64.3 258.0,64.0 C261.2,63.7 266.0,65.7 268.0,68.0 C270.0,70.3 271.3,75.5 270.0,78.0 C268.7,80.5 263.3,82.7 260.0,83.0 C256.7,83.3 251.8,82.2 250.0,80.0 C248.2,77.8 247.7,72.7 249.0,70.0Z" fill="#b0aaaa" stroke="#555" stroke-width="0.7"/>
<path d="M252.0,66 l3,12" fill="none" stroke="#666" stroke-width="0.5"/>
<path d="M255.0,66 l3,12" fill="none" stroke="#666" stroke-width="0.5"/>
<path d="M258.0,66 l3,12" fill="none" stroke="#666" stroke-width="0.5"/>
<path d="M261.0,66 l3,12" fill="none" stroke="#666" stroke-width="0.5"/>
<path d="M264.0,66 l3,12" fill="none" stroke="#666" stroke-width="0.5"/>
<path d="M267.0,66 l3,12" fill="none" stroke="#666" stroke-width="0.5"/>
<path d="M223,66 C226,52 246,47 258,57" fill="none" stroke="#5a5555" stroke-width="5"/>
<path d="M223,66 C226,52 246,47 258,57" fill="none" stroke="#f4f2f2" stroke-width="3.2"/>
<path d="M249.0,84.0 C250.5,81.3 255.0,79.0 258.0,79.0 C261.0,79.0 265.3,81.3 267.0,84.0 C268.7,86.7 268.7,91.7 268.0,95.0 C267.3,98.3 264.8,101.5 263.0,104.0 C261.2,106.5 259.2,109.7 257.0,110.0 C254.8,110.3 251.3,108.5 250.0,106.0 C248.7,103.5 249.2,98.7 249.0,95.0 C248.8,91.3 247.5,86.7 249.0,84.0Z" fill="#e2cfb8" stroke="#4e4238" stroke-width="0.9"/>
<path d="M254,88 q5,-5 9,0 q2,7 -4,9 M256,92 q3,-2 5,1" fill="none" stroke="#3e342c" stroke-width="0.9"/>
<path d="M214.5,15.4 L242.5,4.2 L242.5,98 L216,93.7Z" fill="#cfe0e8" stroke="#4d5c62" stroke-width="1.0" fill-opacity="0.6"/>
<path d="M232,22 L242,20 L242,96 L234,95Z" fill="#e8f0f4" stroke="none" stroke-width="1" opacity="0.5"/>
<path d="M216,60 L242,60" fill="none" stroke="#9ab" stroke-width="0.5" opacity="0.5"/>
<path d="M196,75 Q202,71.5 207,75 Q202,78.5 196,75Z" fill="#3a2c24" stroke="none" stroke-width="1"/>
<path d="M193,69.5 Q200,66.5 208,69.5" fill="none" stroke="#6a5040" stroke-width="0.9"/>
<path d="M182,99 Q187,102 192,99" fill="none" stroke="#6a5040" stroke-width="0.8"/>
<path d="M186.0,113.0 C187.2,111.2 192.2,109.5 195.0,110.0 C197.8,110.5 201.3,113.5 203.0,116.0 C204.7,118.5 205.3,122.3 205.0,125.0 C204.7,127.7 203.0,131.3 201.0,132.0 C199.0,132.7 195.2,130.8 193.0,129.0 C190.8,127.2 189.2,123.7 188.0,121.0 C186.8,118.3 184.8,114.8 186.0,113.0Z" fill="#7a4a48" stroke="#4a3230" stroke-width="0.8"/>
<path d="M187,113.5 Q195,111 202,115.5" fill="none" stroke="#f4efe8" stroke-width="2"/>
<path d="M193,128 Q199,130 204,127" fill="none" stroke="#f4efe8" stroke-width="1.5"/>
<path d="M200.6,153 Q212,153 228,147.6" fill="none" stroke="#5e5246" stroke-width="0.8"/>
<path d="M150.0,121.0 C153.0,117.9 160.8,117.5 165.0,117.5 C169.2,117.5 172.7,119.1 175.0,121.0 C177.3,122.9 178.4,125.0 179.0,129.0 C179.6,133.0 179.2,141.2 178.5,145.0 C177.8,148.8 177.1,150.0 175.0,152.0 C172.9,154.0 169.2,156.0 166.0,157.0 C162.8,158.0 158.8,159.0 156.0,158.0 C153.2,157.0 150.5,154.7 149.0,151.0 C147.5,147.3 146.8,141.0 147.0,136.0 C147.2,131.0 147.0,124.1 150.0,121.0Z" fill="#6db24f" stroke="#3c6a2e" stroke-width="0.9"/>
<ellipse cx="162" cy="147" rx="8" ry="6" fill="#8fd070" opacity="0.6" filter="url(#blur1)"/>
<path d="M170.0,128.0 C171.8,126.0 177.4,123.0 179.0,126.0 C180.6,129.0 180.7,142.8 179.5,146.0 C178.3,149.2 173.9,146.3 172.0,145.0 C170.1,143.7 168.3,140.8 168.0,138.0 C167.7,135.2 168.2,130.0 170.0,128.0Z" fill="#f3f1e8" stroke="#8a9a80" stroke-width="0.6"/>
<path d="M156,155 L155.5,163" fill="none" stroke="#222" stroke-width="1.6"/>
<path d="M122.0,121.0 C123.2,114.3 125.2,111.7 128.0,108.0 C130.8,104.3 135.3,100.1 139.0,98.8 C142.7,97.5 145.7,98.8 150.0,100.0 C154.3,101.2 161.0,103.8 165.0,106.0 C169.0,108.2 171.9,110.8 174.0,113.0 C176.1,115.2 177.8,117.9 177.5,119.5 C177.2,121.1 174.9,122.1 172.0,122.5 C169.1,122.9 163.7,121.6 160.0,122.0 C156.3,122.4 152.3,122.8 150.0,125.0 C147.7,127.2 146.8,130.8 146.0,135.0 C145.2,139.2 145.5,145.5 145.0,150.0 C144.5,154.5 143.8,159.0 143.0,162.0 C142.2,165.0 143.5,168.0 140.0,168.0 C136.5,168.0 125.2,165.3 122.0,162.0 C118.8,158.7 120.5,154.8 120.5,148.0 C120.5,141.2 120.8,127.7 122.0,121.0Z" fill="#ebe2cf" stroke="#5e5246" stroke-width="0.9"/>
<path d="M146.0,127.5 C148.7,126.1 156.0,126.1 160.0,126.5 C164.0,126.9 167.9,128.5 170.0,130.0 C172.1,131.5 173.3,134.1 172.5,135.5 C171.7,136.9 168.8,138.0 165.0,138.5 C161.2,139.0 153.5,139.1 150.0,138.5 C146.5,137.9 144.7,136.8 144.0,135.0 C143.3,133.2 143.3,128.9 146.0,127.5Z" fill="#ebe2cf" stroke="#5e5246" stroke-width="0.8"/>
<path d="M139,104 Q152,107 163,113" fill="none" stroke="#9a8a76" stroke-width="0.6"/>
<ellipse cx="133" cy="132" rx="8" ry="14" fill="#f4eee2" opacity="0.7" filter="url(#blur3)"/>
<path d="M124,222 Q119,242 115,258 Q111,270 107,279" fill="none" stroke="#5e5246" stroke-width="0.9"/>
<path d="M156,222.4 L166.8,250.4" fill="none" stroke="#5e5246" stroke-width="0.9"/>
<path d="M181,266 q3,-3 6,0 M174.3,276.5 Q180,282 187.4,283 M299,262 q3,-3 6,0" fill="none" stroke="#7a6a58" stroke-width="0.8"/>
<path d="M332.3,219.4 Q326,235 327.4,244 Q330,256 330,266" fill="none" stroke="#5e5246" stroke-width="0.9"/>
<path d="M327.4,244 Q322,262 312.5,274" fill="none" stroke="#5e5246" stroke-width="0.8"/>
<path d="M368.5,457 Q366,468 362,481 Q367,476 372,470 Q371,463 368.5,457Z" fill="#f4f0e8" stroke="#5e5246" stroke-width="0.8"/>
<path d="M356.5,486 Q364,481 373,475 M354.5,496 Q364,492 375,485" fill="none" stroke="#5e5246" stroke-width="0.8"/>
<linearGradient id="esof" x1="0" y1="0" x2="0" y2="1"><stop offset="0" stop-color="#ead2cc" stop-opacity="0"/><stop offset="0.25" stop-color="#ead2cc" stop-opacity="1"/></linearGradient>
<linearGradient id="esol" x1="0" y1="0" x2="0" y2="1"><stop offset="0" stop-color="#a88c84" stop-opacity="0"/><stop offset="0.25" stop-color="#a88c84" stop-opacity="1"/></linearGradient>
<path d="M240.5,196 C241,240 242,262 243,280 L253.5,280 C252,250 250.5,225 250,196Z" fill="url(#esof)" stroke="none" stroke-width="1" opacity="0.75"/>
<path d="M240.5,196 C241,240 242,262 243,280 M250,196 C250.5,225 252,250 253.5,280" fill="none" stroke="url(#esol)" stroke-width="0.8"/>
<path d="M171.0,332.0 C172.2,327.3 175.7,322.7 178.0,322.0 C180.3,321.3 183.7,323.3 185.0,328.0 C186.3,332.7 186.0,341.9 186.0,350.0 C186.0,358.1 186.2,371.4 185.0,376.6 C183.8,381.8 181.1,381.8 179.0,381.0 C176.9,380.2 173.8,377.2 172.5,372.0 C171.2,366.8 171.2,356.7 171.0,350.0 C170.8,343.3 169.8,336.7 171.0,332.0Z" fill="#f0e070" stroke="#a09040" stroke-width="0.6"/>
<path d="M311.0,312.0 C312.3,308.5 316.8,306.0 320.0,309.0 C323.2,312.0 327.5,321.5 330.0,330.0 C332.5,338.5 334.3,352.2 335.0,360.0 C335.7,367.8 335.7,374.2 334.0,377.0 C332.3,379.8 328.0,381.5 325.0,377.0 C322.0,372.5 318.2,357.8 316.0,350.0 C313.8,342.2 312.8,336.3 312.0,330.0 C311.2,323.7 309.7,315.5 311.0,312.0Z" fill="#f0e070" stroke="#a09040" stroke-width="0.6"/>
<clipPath id="fatclip"><path d="M171.0,332.0 C172.2,327.3 175.7,322.7 178.0,322.0 C180.3,321.3 183.7,323.3 185.0,328.0 C186.3,332.7 186.0,341.9 186.0,350.0 C186.0,358.1 186.2,371.4 185.0,376.6 C183.8,381.8 181.1,381.8 179.0,381.0 C176.9,380.2 173.8,377.2 172.5,372.0 C171.2,366.8 171.2,356.7 171.0,350.0 C170.8,343.3 169.8,336.7 171.0,332.0Z"/><path d="M311.0,312.0 C312.3,308.5 316.8,306.0 320.0,309.0 C323.2,312.0 327.5,321.5 330.0,330.0 C332.5,338.5 334.3,352.2 335.0,360.0 C335.7,367.8 335.7,374.2 334.0,377.0 C332.3,379.8 328.0,381.5 325.0,377.0 C322.0,372.5 318.2,357.8 316.0,350.0 C313.8,342.2 312.8,336.3 312.0,330.0 C311.2,323.7 309.7,315.5 311.0,312.0Z"/></clipPath>
<g clip-path="url(#fatclip)">
<path d="M181.0,365.0 q1.3,-0.7 0.7,-2.3" fill="none" stroke="#4a3e18" stroke-width="0.8"/>
<path d="M186.1,364.9 q1.4,0.5 2.1,-1.1" fill="none" stroke="#4a3e18" stroke-width="0.8"/>
<path d="M171.5,349.0 q1.4,0.6 2.2,-0.8" fill="none" stroke="#4a3e18" stroke-width="0.8"/>
<path d="M181.4,374.3 q0.1,1.5 1.8,1.6" fill="none" stroke="#4a3e18" stroke-width="0.8"/>
<path d="M178.5,336.3 q-0.7,-1.3 -2.3,-0.6" fill="none" stroke="#4a3e18" stroke-width="0.8"/>
<path d="M180.2,322.8 q-0.8,1.2 0.5,2.3" fill="none" stroke="#4a3e18" stroke-width="0.8"/>
<path d="M175.5,375.1 q1.2,-0.9 0.2,-2.4" fill="none" stroke="#4a3e18" stroke-width="0.8"/>
<path d="M173.6,368.2 q-0.2,1.5 1.5,1.8" fill="none" stroke="#4a3e18" stroke-width="0.8"/>
<path d="M180.9,329.3 q1.0,1.1 2.4,0.0" fill="none" stroke="#4a3e18" stroke-width="0.8"/>
<path d="M184.9,334.1 q-0.8,1.3 0.5,2.3" fill="none" stroke="#4a3e18" stroke-width="0.8"/>
<path d="M186.7,372.6 q-1.3,0.8 -0.6,2.3" fill="none" stroke="#4a3e18" stroke-width="0.8"/>
<path d="M186.4,353.3 q0.5,-1.4 -1.1,-2.2" fill="none" stroke="#4a3e18" stroke-width="0.8"/>
<path d="M174.3,376.6 q0.6,-1.4 -0.9,-2.2" fill="none" stroke="#4a3e18" stroke-width="0.8"/>
<path d="M186.5,373.8 q-1.3,0.7 -0.7,2.3" fill="none" stroke="#4a3e18" stroke-width="0.8"/>
<path d="M176.8,331.6 q-0.2,1.5 1.5,1.9" fill="none" stroke="#4a3e18" stroke-width="0.8"/>
<path d="M172.0,339.5 q-0.2,-1.5 -1.9,-1.4" fill="none" stroke="#4a3e18" stroke-width="0.8"/>
<path d="M171.1,361.3 q-1.5,0.3 -1.3,2.0" fill="none" stroke="#4a3e18" stroke-width="0.8"/>
<path d="M176.0,369.5 q-1.2,-0.9 -2.4,0.3" fill="none" stroke="#4a3e18" stroke-width="0.8"/>
<path d="M176.1,349.9 q0.7,-1.3 -0.7,-2.3" fill="none" stroke="#4a3e18" stroke-width="0.8"/>
<path d="M171.9,378.6 q0.9,1.2 2.4,0.3" fill="none" stroke="#4a3e18" stroke-width="0.8"/>
<path d="M183.0,371.0 q0.9,1.2 2.4,0.3" fill="none" stroke="#4a3e18" stroke-width="0.8"/>
<path d="M183.6,343.2 q-0.4,-1.4 -2.1,-1.1" fill="none" stroke="#4a3e18" stroke-width="0.8"/>
<path d="M171.1,324.7 q-0.5,1.4 1.0,2.2" fill="none" stroke="#4a3e18" stroke-width="0.8"/>
<path d="M186.3,333.4 q1.1,-1.0 0.1,-2.4" fill="none" stroke="#4a3e18" stroke-width="0.8"/>
<path d="M185.9,376.6 q-1.5,0.3 -1.3,2.0" fill="none" stroke="#4a3e18" stroke-width="0.8"/>
<path d="M176.7,352.4 q1.2,-0.9 0.4,-2.4" fill="none" stroke="#4a3e18" stroke-width="0.8"/>
<path d="M172.7,365.4 q1.3,-0.7 0.7,-2.3" fill="none" stroke="#4a3e18" stroke-width="0.8"/>
<path d="M184.8,324.1 q1.3,0.7 2.3,-0.8" fill="none" stroke="#4a3e18" stroke-width="0.8"/>
<path d="M172.5,341.8 q-0.1,-1.5 -1.8,-1.5" fill="none" stroke="#4a3e18" stroke-width="0.8"/>
<path d="M185.7,341.7 q1.4,0.5 2.1,-1.1" fill="none" stroke="#4a3e18" stroke-width="0.8"/>
<path d="M179.7,340.1 q-1.4,0.5 -1.0,2.2" fill="none" stroke="#4a3e18" stroke-width="0.8"/>
<path d="M173.8,326.5 q-0.2,1.5 1.4,1.9" fill="none" stroke="#4a3e18" stroke-width="0.8"/>
<path d="M182.0,379.8 q-0.4,1.5 1.3,2.0" fill="none" stroke="#4a3e18" stroke-width="0.8"/>
<path d="M171.8,379.2 q-0.8,-1.3 -2.3,-0.5" fill="none" stroke="#4a3e18" stroke-width="0.8"/>
<path d="M177.5,335.8 q-0.3,-1.5 -2.0,-1.3" fill="none" stroke="#4a3e18" stroke-width="0.8"/>
<path d="M184.2,348.4 q-1.4,-0.5 -2.1,1.1" fill="none" stroke="#4a3e18" stroke-width="0.8"/>
<path d="M171.9,375.1 q0.8,1.3 2.3,0.5" fill="none" stroke="#4a3e18" stroke-width="0.8"/>
<path d="M178.9,370.6 q-0.1,1.5 1.6,1.8" fill="none" stroke="#4a3e18" stroke-width="0.8"/>
<path d="M182.7,377.1 q0.1,-1.5 -1.6,-1.8" fill="none" stroke="#4a3e18" stroke-width="0.8"/>
<path d="M183.6,328.2 q-1.4,-0.6 -2.2,1.0" fill="none" stroke="#4a3e18" stroke-width="0.8"/>
<path d="M173.4,371.0 q-1.3,0.7 -0.7,2.3" fill="none" stroke="#4a3e18" stroke-width="0.8"/>
<path d="M178.3,380.0 q1.5,-0.2 1.4,-1.9" fill="none" stroke="#4a3e18" stroke-width="0.8"/>
<path d="M186.6,348.3 q-1.1,-1.0 -2.4,0.2" fill="none" stroke="#4a3e18" stroke-width="0.8"/>
<path d="M182.7,349.8 q-1.3,0.7 -0.6,2.3" fill="none" stroke="#4a3e18" stroke-width="0.8"/>
<path d="M177.5,330.5 q-1.5,-0.0 -1.7,1.7" fill="none" stroke="#4a3e18" stroke-width="0.8"/>
<path d="M186.8,377.7 q0.0,-1.5 -1.7,-1.7" fill="none" stroke="#4a3e18" stroke-width="0.8"/>
<path d="M179.0,341.6 q0.3,1.5 2.0,1.3" fill="none" stroke="#4a3e18" stroke-width="0.8"/>
<path d="M175.4,367.4 q1.5,-0.1 1.6,-1.8" fill="none" stroke="#4a3e18" stroke-width="0.8"/>
<path d="M176.8,367.6 q1.2,-0.9 0.4,-2.4" fill="none" stroke="#4a3e18" stroke-width="0.8"/>
<path d="M182.1,360.5 q1.1,-1.0 0.1,-2.4" fill="none" stroke="#4a3e18" stroke-width="0.8"/>
<path d="M319.7,357.2 q-1.3,0.8 -0.5,2.4" fill="none" stroke="#4a3e18" stroke-width="0.8"/>
<path d="M322.7,361.6 q0.6,-1.4 -0.9,-2.2" fill="none" stroke="#4a3e18" stroke-width="0.8"/>
<path d="M318.1,373.4 q0.3,-1.5 -1.4,-1.9" fill="none" stroke="#4a3e18" stroke-width="0.8"/>
<path d="M324.9,310.8 q-0.7,-1.3 -2.3,-0.7" fill="none" stroke="#4a3e18" stroke-width="0.8"/>
<path d="M317.0,355.0 q-1.3,-0.8 -2.3,0.6" fill="none" stroke="#4a3e18" stroke-width="0.8"/>
<path d="M330.6,353.4 q1.3,-0.7 0.7,-2.3" fill="none" stroke="#4a3e18" stroke-width="0.8"/>
<path d="M319.3,353.2 q1.0,-1.1 -0.2,-2.4" fill="none" stroke="#4a3e18" stroke-width="0.8"/>
<path d="M330.9,333.5 q1.5,-0.3 1.3,-2.0" fill="none" stroke="#4a3e18" stroke-width="0.8"/>
<path d="M331.9,356.1 q1.2,0.9 2.4,-0.4" fill="none" stroke="#4a3e18" stroke-width="0.8"/>
<path d="M334.0,344.7 q-0.8,-1.2 -2.4,-0.4" fill="none" stroke="#4a3e18" stroke-width="0.8"/>
<path d="M315.0,366.1 q1.4,0.6 2.2,-0.9" fill="none" stroke="#4a3e18" stroke-width="0.8"/>
<path d="M322.5,356.3 q0.9,-1.2 -0.5,-2.4" fill="none" stroke="#4a3e18" stroke-width="0.8"/>
<path d="M328.5,321.5 q1.3,-0.8 0.4,-2.4" fill="none" stroke="#4a3e18" stroke-width="0.8"/>
<path d="M324.9,354.6 q-1.4,-0.4 -2.1,1.1" fill="none" stroke="#4a3e18" stroke-width="0.8"/>
<path d="M326.0,361.9 q0.1,-1.5 -1.6,-1.8" fill="none" stroke="#4a3e18" stroke-width="0.8"/>
<path d="M328.3,311.9 q-0.3,1.5 1.3,2.0" fill="none" stroke="#4a3e18" stroke-width="0.8"/>
<path d="M321.6,353.6 q-0.9,1.2 0.5,2.4" fill="none" stroke="#4a3e18" stroke-width="0.8"/>
<path d="M327.5,352.3 q0.7,1.3 2.3,0.6" fill="none" stroke="#4a3e18" stroke-width="0.8"/>
<path d="M322.3,325.2 q0.6,1.4 2.3,0.8" fill="none" stroke="#4a3e18" stroke-width="0.8"/>
<path d="M314.2,331.3 q-0.5,1.4 1.0,2.2" fill="none" stroke="#4a3e18" stroke-width="0.8"/>
<path d="M315.6,312.4 q-1.3,-0.8 -2.3,0.5" fill="none" stroke="#4a3e18" stroke-width="0.8"/>
<path d="M320.1,351.0 q-0.3,-1.5 -2.0,-1.3" fill="none" stroke="#4a3e18" stroke-width="0.8"/>
<path d="M316.7,370.5 q1.0,1.1 2.4,0.0" fill="none" stroke="#4a3e18" stroke-width="0.8"/>
<path d="M320.7,328.7 q-1.5,-0.3 -2.0,1.3" fill="none" stroke="#4a3e18" stroke-width="0.8"/>
<path d="M313.8,365.7 q-1.5,-0.0 -1.7,1.7" fill="none" stroke="#4a3e18" stroke-width="0.8"/>
<path d="M311.9,351.1 q0.3,1.5 2.0,1.3" fill="none" stroke="#4a3e18" stroke-width="0.8"/>
<path d="M324.1,332.7 q-0.4,-1.4 -2.1,-1.2" fill="none" stroke="#4a3e18" stroke-width="0.8"/>
<path d="M334.0,364.8 q-1.4,-0.4 -2.1,1.2" fill="none" stroke="#4a3e18" stroke-width="0.8"/>
<path d="M330.5,353.0 q-1.5,0.0 -1.6,1.8" fill="none" stroke="#4a3e18" stroke-width="0.8"/>
<path d="M314.4,349.9 q-0.5,-1.4 -2.2,-0.9" fill="none" stroke="#4a3e18" stroke-width="0.8"/>
<path d="M334.0,374.9 q-0.1,-1.5 -1.9,-1.5" fill="none" stroke="#4a3e18" stroke-width="0.8"/>
<path d="M319.4,369.9 q1.0,1.1 2.4,0.0" fill="none" stroke="#4a3e18" stroke-width="0.8"/>
<path d="M313.6,347.9 q-0.1,-1.5 -1.8,-1.6" fill="none" stroke="#4a3e18" stroke-width="0.8"/>
<path d="M314.4,352.2 q1.5,0.2 1.9,-1.5" fill="none" stroke="#4a3e18" stroke-width="0.8"/>
<path d="M320.0,338.9 q-0.9,1.2 0.4,2.4" fill="none" stroke="#4a3e18" stroke-width="0.8"/>
<path d="M318.0,375.2 q-1.5,-0.1 -1.7,1.6" fill="none" stroke="#4a3e18" stroke-width="0.8"/>
<path d="M334.1,371.2 q-0.3,-1.5 -2.0,-1.4" fill="none" stroke="#4a3e18" stroke-width="0.8"/>
<path d="M317.2,375.7 q-1.1,-1.0 -2.4,0.1" fill="none" stroke="#4a3e18" stroke-width="0.8"/>
<path d="M321.0,331.4 q1.1,1.0 2.4,-0.2" fill="none" stroke="#4a3e18" stroke-width="0.8"/>
<path d="M322.8,329.2 q-1.2,-0.9 -2.4,0.4" fill="none" stroke="#4a3e18" stroke-width="0.8"/>
<path d="M313.9,351.7 q-1.4,-0.6 -2.2,0.8" fill="none" stroke="#4a3e18" stroke-width="0.8"/>
<path d="M318.0,362.4 q1.4,-0.4 1.1,-2.1" fill="none" stroke="#4a3e18" stroke-width="0.8"/>
<path d="M311.3,345.7 q-1.2,0.9 -0.4,2.4" fill="none" stroke="#4a3e18" stroke-width="0.8"/>
<path d="M333.4,362.4 q-1.0,1.1 0.1,2.4" fill="none" stroke="#4a3e18" stroke-width="0.8"/>
<path d="M317.4,320.4 q1.1,1.0 2.4,-0.2" fill="none" stroke="#4a3e18" stroke-width="0.8"/>
<path d="M318.0,350.7 q-1.2,-0.9 -2.4,0.4" fill="none" stroke="#4a3e18" stroke-width="0.8"/>
<path d="M326.5,350.5 q1.0,-1.1 -0.1,-2.4" fill="none" stroke="#4a3e18" stroke-width="0.8"/>
<path d="M313.8,360.9 q-1.3,0.7 -0.7,2.3" fill="none" stroke="#4a3e18" stroke-width="0.8"/>
<path d="M323.8,332.5 q-1.3,0.7 -0.7,2.3" fill="none" stroke="#4a3e18" stroke-width="0.8"/>
<path d="M323.7,341.1 q-1.5,0.1 -1.5,1.8" fill="none" stroke="#4a3e18" stroke-width="0.8"/>
</g>
<path d="M181.0,308.5 C183.5,300.2 188.8,285.2 196.0,280.0 C203.2,274.8 216.4,277.0 224.0,277.0 C231.6,277.0 235.5,279.8 241.7,280.0 C247.9,280.2 252.7,277.2 261.0,278.0 C269.3,278.8 286.2,282.8 291.7,284.6 C297.2,286.4 296.9,285.0 294.0,289.0 C291.1,293.0 279.5,303.8 274.0,308.5 C268.5,313.2 267.5,314.5 261.0,317.0 C254.5,319.5 242.9,321.5 235.0,323.7 C227.1,325.9 218.9,326.0 213.5,330.0 C208.1,334.0 206.6,344.3 202.6,347.6 C198.6,350.9 193.2,352.7 189.6,349.8 C186.0,346.9 182.4,336.9 181.0,330.0 C179.6,323.1 178.5,316.8 181.0,308.5Z" fill="#cf9b79" stroke="#7a5040" stroke-width="0.8"/>
<clipPath id="livclip"><path d="M181.0,308.5 C183.5,300.2 188.8,285.2 196.0,280.0 C203.2,274.8 216.4,277.0 224.0,277.0 C231.6,277.0 235.5,279.8 241.7,280.0 C247.9,280.2 252.7,277.2 261.0,278.0 C269.3,278.8 286.2,282.8 291.7,284.6 C297.2,286.4 296.9,285.0 294.0,289.0 C291.1,293.0 279.5,303.8 274.0,308.5 C268.5,313.2 267.5,314.5 261.0,317.0 C254.5,319.5 242.9,321.5 235.0,323.7 C227.1,325.9 218.9,326.0 213.5,330.0 C208.1,334.0 206.6,344.3 202.6,347.6 C198.6,350.9 193.2,352.7 189.6,349.8 C186.0,346.9 182.4,336.9 181.0,330.0 C179.6,323.1 178.5,316.8 181.0,308.5Z"/></clipPath>
<g clip-path="url(#livclip)">
<path d="M181.0,308.5 C183.5,300.2 188.8,285.2 196.0,280.0 C203.2,274.8 216.4,277.0 224.0,277.0 C231.6,277.0 235.5,279.8 241.7,280.0 C247.9,280.2 252.7,277.2 261.0,278.0 C269.3,278.8 286.2,282.8 291.7,284.6 C297.2,286.4 296.9,285.0 294.0,289.0 C291.1,293.0 279.5,303.8 274.0,308.5 C268.5,313.2 267.5,314.5 261.0,317.0 C254.5,319.5 242.9,321.5 235.0,323.7 C227.1,325.9 218.9,326.0 213.5,330.0 C208.1,334.0 206.6,344.3 202.6,347.6 C198.6,350.9 193.2,352.7 189.6,349.8 C186.0,346.9 182.4,336.9 181.0,330.0 C179.6,323.1 178.5,316.8 181.0,308.5Z" fill="none" stroke="#b07858" stroke-width="8" filter="url(#blur3)" opacity="0.7"/>
<ellipse cx="214" cy="296" rx="14" ry="11" fill="#e6bc9c" filter="url(#blur3)"/>
<ellipse cx="260" cy="293" rx="12" ry="8" fill="#e6bc9c" filter="url(#blur3)"/>
</g>
<path d="M181.0,308.5 C183.5,300.2 188.8,285.2 196.0,280.0 C203.2,274.8 216.4,277.0 224.0,277.0 C231.6,277.0 235.5,279.8 241.7,280.0 C247.9,280.2 252.7,277.2 261.0,278.0 C269.3,278.8 286.2,282.8 291.7,284.6 C297.2,286.4 296.9,285.0 294.0,289.0 C291.1,293.0 279.5,303.8 274.0,308.5 C268.5,313.2 267.5,314.5 261.0,317.0 C254.5,319.5 242.9,321.5 235.0,323.7 C227.1,325.9 218.9,326.0 213.5,330.0 C208.1,334.0 206.6,344.3 202.6,347.6 C198.6,350.9 193.2,352.7 189.6,349.8 C186.0,346.9 182.4,336.9 181.0,330.0 C179.6,323.1 178.5,316.8 181.0,308.5Z" fill="none" stroke="#7a5040" stroke-width="0.8"/>
<path d="M241.7,281 Q238,300 244,318" fill="none" stroke="#9a6a50" stroke-width="0.8"/>
<path d="M276.5,289.0 C280.5,285.4 294.2,285.6 300.0,286.7 C305.8,287.8 308.8,290.0 311.0,295.4 C313.2,300.8 313.8,312.1 313.5,319.0 C313.2,325.9 313.0,331.6 309.0,336.7 C305.0,341.8 298.3,348.0 289.6,349.8 C280.9,351.6 266.8,349.8 257.0,347.6 C247.2,345.4 234.7,340.0 231.0,336.7 C227.3,333.4 229.8,331.1 235.0,328.0 C240.2,324.9 255.2,321.3 262.0,318.0 C268.8,314.7 273.6,312.8 276.0,308.0 C278.4,303.2 272.5,292.6 276.5,289.0Z" fill="#eddcd6" stroke="#7a6460" stroke-width="0.8"/>
<path d="M239.5,330.0 C242.1,327.1 257.9,322.1 268.0,319.0 C278.1,315.9 294.2,312.0 300.0,311.7 C305.8,311.4 306.2,314.3 302.6,317.0 C299.1,319.7 287.0,324.7 278.7,328.0 C270.4,331.3 259.1,336.4 252.6,336.7 C246.1,337.0 236.9,332.9 239.5,330.0Z" fill="#e9d092" stroke="#a08a50" stroke-width="0.6"/>
<path d="M228.0,333.0 C229.5,330.5 236.8,328.3 240.0,329.0 C243.2,329.7 246.7,334.3 247.0,337.0 C247.3,339.7 244.7,343.8 242.0,345.0 C239.3,346.2 233.3,346.0 231.0,344.0 C228.7,342.0 226.5,335.5 228.0,333.0Z" fill="#dccf6c" stroke="#8a7a40" stroke-width="0.6"/>
<path d="M186.0,348.0 C197.2,340.7 228.0,346.3 250.0,346.0 C272.0,345.7 306.0,340.3 318.0,346.0 C330.0,351.7 321.7,366.3 322.0,380.0 C322.3,393.7 323.7,418.7 320.0,428.0 C316.3,437.3 313.3,434.3 300.0,436.0 C286.7,437.7 256.7,437.7 240.0,438.0 C223.3,438.3 209.0,440.2 200.0,438.0 C191.0,435.8 188.8,433.0 186.0,425.0 C183.2,417.0 183.0,402.8 183.0,390.0 C183.0,377.2 174.8,355.3 186.0,348.0Z" fill="#f1e6e7" stroke="none" stroke-width="1"/>
<path d="M209.0,366.0 C216.3,361.2 234.3,366.3 250.0,366.0 C265.7,365.7 293.7,359.2 303.0,364.0 C312.3,368.8 306.0,385.0 306.0,395.0 C306.0,405.0 309.0,418.5 303.0,424.0 C297.0,429.5 281.3,427.7 270.0,428.0 C258.7,428.3 244.7,427.3 235.0,426.0 C225.3,424.7 216.8,425.2 212.0,420.0 C207.2,414.8 206.5,404.0 206.0,395.0 C205.5,386.0 201.7,370.8 209.0,366.0Z" fill="#dba3a0" stroke="none" stroke-width="1"/>
<path d="M215.0,379.0 L217.0,383.0 L219.0,385.9 L221.0,387.0 L223.0,385.9 L225.0,383.0 L227.0,379.0 L229.0,375.0 L231.0,372.1 L233.0,371.0 L235.0,372.1 L237.0,375.0 L239.0,379.0 L241.0,383.0 L243.0,385.9 L245.0,387.0 L247.0,385.9 L249.0,383.0 L251.0,379.0 L253.0,375.0 L255.0,372.1 L257.0,371.0 L259.0,372.1 L261.0,375.0 L263.0,379.0 L265.0,383.0 L267.0,385.9 L269.0,387.0 L271.0,385.9 L273.0,383.0 L275.0,379.0 L277.0,375.0 L279.0,372.1 L281.0,371.0 L283.0,372.1 L285.0,375.0 L287.0,379.0 L289.0,383.0 L291.0,385.9 L293.0,387.0 L295.0,385.9 L297.0,383.0 L299.0,379.0" fill="none" stroke="#6e3c3a" stroke-width="11.4" stroke-linecap="round" stroke-linejoin="round"/>
<path d="M215.0,379.0 L217.0,383.0 L219.0,385.9 L221.0,387.0 L223.0,385.9 L225.0,383.0 L227.0,379.0 L229.0,375.0 L231.0,372.1 L233.0,371.0 L235.0,372.1 L237.0,375.0 L239.0,379.0 L241.0,383.0 L243.0,385.9 L245.0,387.0 L247.0,385.9 L249.0,383.0 L251.0,379.0 L253.0,375.0 L255.0,372.1 L257.0,371.0 L259.0,372.1 L261.0,375.0 L263.0,379.0 L265.0,383.0 L267.0,385.9 L269.0,387.0 L271.0,385.9 L273.0,383.0 L275.0,379.0 L277.0,375.0 L279.0,372.1 L281.0,371.0 L283.0,372.1 L285.0,375.0 L287.0,379.0 L289.0,383.0 L291.0,385.9 L293.0,387.0 L295.0,385.9 L297.0,383.0 L299.0,379.0" fill="none" stroke="#f0d0cc" stroke-width="9" stroke-linecap="round" stroke-linejoin="round"/>
<path d="M213.0,399.0 L215.0,395.0 L217.0,392.1 L219.0,391.0 L221.0,392.1 L223.0,395.0 L225.0,399.0 L227.0,403.0 L229.0,405.9 L231.0,407.0 L233.0,405.9 L235.0,403.0 L237.0,399.0 L239.0,395.0 L241.0,392.1 L243.0,391.0 L245.0,392.1 L247.0,395.0 L249.0,399.0 L251.0,403.0 L253.0,405.9 L255.0,407.0 L257.0,405.9 L259.0,403.0 L261.0,399.0 L263.0,395.0 L265.0,392.1 L267.0,391.0 L269.0,392.1 L271.0,395.0 L273.0,399.0 L275.0,403.0 L277.0,405.9 L279.0,407.0 L281.0,405.9 L283.0,403.0 L285.0,399.0 L287.0,395.0 L289.0,392.1 L291.0,391.0 L293.0,392.1 L295.0,395.0 L297.0,399.0 L299.0,403.0 L301.0,405.9" fill="none" stroke="#6e3c3a" stroke-width="11.4" stroke-linecap="round" stroke-linejoin="round"/>
<path d="M213.0,399.0 L215.0,395.0 L217.0,392.1 L219.0,391.0 L221.0,392.1 L223.0,395.0 L225.0,399.0 L227.0,403.0 L229.0,405.9 L231.0,407.0 L233.0,405.9 L235.0,403.0 L237.0,399.0 L239.0,395.0 L241.0,392.1 L243.0,391.0 L245.0,392.1 L247.0,395.0 L249.0,399.0 L251.0,403.0 L253.0,405.9 L255.0,407.0 L257.0,405.9 L259.0,403.0 L261.0,399.0 L263.0,395.0 L265.0,392.1 L267.0,391.0 L269.0,392.1 L271.0,395.0 L273.0,399.0 L275.0,403.0 L277.0,405.9 L279.0,407.0 L281.0,405.9 L283.0,403.0 L285.0,399.0 L287.0,395.0 L289.0,392.1 L291.0,391.0 L293.0,392.1 L295.0,395.0 L297.0,399.0 L299.0,403.0 L301.0,405.9" fill="none" stroke="#f0d0cc" stroke-width="9" stroke-linecap="round" stroke-linejoin="round"/>
<path d="M219.0,423.0 L221.0,422.3 L223.0,420.4 L225.0,417.7 L227.0,414.9 L229.0,412.5 L231.0,411.2 L233.0,411.2 L235.0,412.5 L237.0,414.9 L239.0,417.7 L241.0,420.4 L243.0,422.3 L245.0,423.0 L247.0,422.3 L249.0,420.4 L251.0,417.7 L253.0,414.9 L255.0,412.5 L257.0,411.2 L259.0,411.2 L261.0,412.5 L263.0,414.9 L265.0,417.7 L267.0,420.4 L269.0,422.3 L271.0,423.0 L273.0,422.3 L275.0,420.4 L277.0,417.7 L279.0,414.9 L281.0,412.5 L283.0,411.2 L285.0,411.2 L287.0,412.5 L289.0,414.9 L291.0,417.7 L293.0,420.4 L295.0,422.3 L297.0,423.0" fill="none" stroke="#6e3c3a" stroke-width="11.4" stroke-linecap="round" stroke-linejoin="round"/>
<path d="M219.0,423.0 L221.0,422.3 L223.0,420.4 L225.0,417.7 L227.0,414.9 L229.0,412.5 L231.0,411.2 L233.0,411.2 L235.0,412.5 L237.0,414.9 L239.0,417.7 L241.0,420.4 L243.0,422.3 L245.0,423.0 L247.0,422.3 L249.0,420.4 L251.0,417.7 L253.0,414.9 L255.0,412.5 L257.0,411.2 L259.0,411.2 L261.0,412.5 L263.0,414.9 L265.0,417.7 L267.0,420.4 L269.0,422.3 L271.0,423.0 L273.0,422.3 L275.0,420.4 L277.0,417.7 L279.0,414.9 L281.0,412.5 L283.0,411.2 L285.0,411.2 L287.0,412.5 L289.0,414.9 L291.0,417.7 L293.0,420.4 L295.0,422.3 L297.0,423.0" fill="none" stroke="#f0d0cc" stroke-width="9" stroke-linecap="round" stroke-linejoin="round"/>
<path d="M262.0,372.0 L266.0,380.0 L270.0,388.0 L268.0,396.0" fill="none" stroke="#6e3c3a" stroke-width="10.4" stroke-linecap="round" stroke-linejoin="round"/>
<path d="M262.0,372.0 L266.0,380.0 L270.0,388.0 L268.0,396.0" fill="none" stroke="#f0d0cc" stroke-width="8" stroke-linecap="round" stroke-linejoin="round"/>
<path d="M226.0,392.0 L232.0,399.0 L236.0,408.0 L234.0,414.0" fill="none" stroke="#6e3c3a" stroke-width="10.4" stroke-linecap="round" stroke-linejoin="round"/>
<path d="M226.0,392.0 L232.0,399.0 L236.0,408.0 L234.0,414.0" fill="none" stroke="#f0d0cc" stroke-width="8" stroke-linecap="round" stroke-linejoin="round"/>
<path d="M284.0,404.0 L290.0,410.0 L296.0,406.0" fill="none" stroke="#6e3c3a" stroke-width="10.4" stroke-linecap="round" stroke-linejoin="round"/>
<path d="M284.0,404.0 L290.0,410.0 L296.0,406.0" fill="none" stroke="#f0d0cc" stroke-width="8" stroke-linecap="round" stroke-linejoin="round"/>
<path d="M246.0,411.0 L250.0,419.0 L256.0,424.0" fill="none" stroke="#6e3c3a" stroke-width="9.4" stroke-linecap="round" stroke-linejoin="round"/>
<path d="M246.0,411.0 L250.0,419.0 L256.0,424.0" fill="none" stroke="#f0d0cc" stroke-width="7" stroke-linecap="round" stroke-linejoin="round"/>
<path d="M227.0,371.0 l1.5,-4 M227.0,371.0 l-2,-3" fill="none" stroke="#6e3c3a" stroke-width="0.9"/>
<path d="M253.0,371.0 l1.5,-4 M253.0,371.0 l-2,-3" fill="none" stroke="#6e3c3a" stroke-width="0.9"/>
<path d="M279.0,371.0 l1.5,-4 M279.0,371.0 l-2,-3" fill="none" stroke="#6e3c3a" stroke-width="0.9"/>
<path d="M240.0,406.0 l1.5,-4 M240.0,406.0 l-2,-3" fill="none" stroke="#6e3c3a" stroke-width="0.9"/>
<path d="M266.0,406.0 l1.5,-4 M266.0,406.0 l-2,-3" fill="none" stroke="#6e3c3a" stroke-width="0.9"/>
<path d="M292.0,406.0 l1.5,-4 M292.0,406.0 l-2,-3" fill="none" stroke="#6e3c3a" stroke-width="0.9"/>
<path d="M232.0,423.0 l1.5,-4 M232.0,423.0 l-2,-3" fill="none" stroke="#6e3c3a" stroke-width="0.9"/>
<path d="M260.0,423.0 l1.5,-4 M260.0,423.0 l-2,-3" fill="none" stroke="#6e3c3a" stroke-width="0.9"/>
<ellipse cx="202.0" cy="440.0" rx="13.0" ry="7.0" fill="#f3e9ea" stroke="#9c8a8c" stroke-width="0.7"/>
<ellipse cx="200.2" cy="431.0" rx="13.0" ry="7.0" fill="#f3e9ea" stroke="#9c8a8c" stroke-width="0.7"/>
<ellipse cx="198.4" cy="422.0" rx="13.0" ry="7.0" fill="#f3e9ea" stroke="#9c8a8c" stroke-width="0.7"/>
<ellipse cx="196.9" cy="413.0" rx="13.0" ry="7.0" fill="#f3e9ea" stroke="#9c8a8c" stroke-width="0.7"/>
<ellipse cx="196.3" cy="403.8" rx="13.0" ry="7.0" fill="#f3e9ea" stroke="#9c8a8c" stroke-width="0.7"/>
<ellipse cx="195.6" cy="394.6" rx="13.0" ry="7.0" fill="#f3e9ea" stroke="#9c8a8c" stroke-width="0.7"/>
<ellipse cx="195.0" cy="385.5" rx="13.0" ry="7.0" fill="#f3e9ea" stroke="#9c8a8c" stroke-width="0.7"/>
<ellipse cx="195.6" cy="376.3" rx="13.0" ry="7.0" fill="#f3e9ea" stroke="#9c8a8c" stroke-width="0.7"/>
<ellipse cx="196.3" cy="367.2" rx="13.0" ry="7.0" fill="#f3e9ea" stroke="#9c8a8c" stroke-width="0.7"/>
<ellipse cx="197.0" cy="358.0" rx="13.0" ry="7.0" fill="#f3e9ea" stroke="#9c8a8c" stroke-width="0.7"/>
<ellipse cx="202.0" cy="354.0" rx="7.5" ry="11.0" fill="#f3e9ea" stroke="#9c8a8c" stroke-width="0.7"/>
<ellipse cx="210.8" cy="354.7" rx="7.5" ry="11.0" fill="#f3e9ea" stroke="#9c8a8c" stroke-width="0.7"/>
<ellipse cx="219.7" cy="355.4" rx="7.5" ry="11.0" fill="#f3e9ea" stroke="#9c8a8c" stroke-width="0.7"/>
<ellipse cx="228.5" cy="356.1" rx="7.5" ry="11.0" fill="#f3e9ea" stroke="#9c8a8c" stroke-width="0.7"/>
<ellipse cx="237.4" cy="356.8" rx="7.5" ry="11.0" fill="#f3e9ea" stroke="#9c8a8c" stroke-width="0.7"/>
<ellipse cx="246.2" cy="356.8" rx="7.5" ry="11.0" fill="#f3e9ea" stroke="#9c8a8c" stroke-width="0.7"/>
<ellipse cx="255.1" cy="356.6" rx="7.5" ry="11.0" fill="#f3e9ea" stroke="#9c8a8c" stroke-width="0.7"/>
<ellipse cx="263.9" cy="356.4" rx="7.5" ry="11.0" fill="#f3e9ea" stroke="#9c8a8c" stroke-width="0.7"/>
<ellipse cx="272.8" cy="356.2" rx="7.5" ry="11.0" fill="#f3e9ea" stroke="#9c8a8c" stroke-width="0.7"/>
<ellipse cx="281.7" cy="355.8" rx="7.5" ry="11.0" fill="#f3e9ea" stroke="#9c8a8c" stroke-width="0.7"/>
<ellipse cx="290.4" cy="354.5" rx="7.5" ry="11.0" fill="#f3e9ea" stroke="#9c8a8c" stroke-width="0.7"/>
<ellipse cx="299.2" cy="353.3" rx="7.5" ry="11.0" fill="#f3e9ea" stroke="#9c8a8c" stroke-width="0.7"/>
<ellipse cx="308.0" cy="352.0" rx="7.5" ry="11.0" fill="#f3e9ea" stroke="#9c8a8c" stroke-width="0.7"/>
<ellipse cx="312.0" cy="360.0" rx="10.0" ry="7.0" fill="#f3e9ea" stroke="#9c8a8c" stroke-width="0.7"/>
<ellipse cx="312.2" cy="368.5" rx="10.0" ry="7.0" fill="#f3e9ea" stroke="#9c8a8c" stroke-width="0.7"/>
<ellipse cx="312.5" cy="377.0" rx="10.0" ry="7.0" fill="#f3e9ea" stroke="#9c8a8c" stroke-width="0.7"/>
<ellipse cx="312.7" cy="385.5" rx="10.0" ry="7.0" fill="#f3e9ea" stroke="#9c8a8c" stroke-width="0.7"/>
<ellipse cx="313.0" cy="394.1" rx="10.0" ry="7.0" fill="#f3e9ea" stroke="#9c8a8c" stroke-width="0.7"/>
<ellipse cx="312.3" cy="402.5" rx="10.0" ry="7.0" fill="#f3e9ea" stroke="#9c8a8c" stroke-width="0.7"/>
<ellipse cx="311.5" cy="411.0" rx="10.0" ry="7.0" fill="#f3e9ea" stroke="#9c8a8c" stroke-width="0.7"/>
<ellipse cx="310.8" cy="419.5" rx="10.0" ry="7.0" fill="#f3e9ea" stroke="#9c8a8c" stroke-width="0.7"/>
<ellipse cx="310.0" cy="428.0" rx="10.0" ry="7.0" fill="#f3e9ea" stroke="#9c8a8c" stroke-width="0.7"/>
<ellipse cx="300.0" cy="432.0" rx="7.0" ry="7.5" fill="#f3e9ea" stroke="#9c8a8c" stroke-width="0.7"/>
<ellipse cx="289.7" cy="432.6" rx="7.0" ry="7.5" fill="#f3e9ea" stroke="#9c8a8c" stroke-width="0.7"/>
<ellipse cx="279.3" cy="433.3" rx="7.0" ry="7.5" fill="#f3e9ea" stroke="#9c8a8c" stroke-width="0.7"/>
<ellipse cx="269.0" cy="433.9" rx="7.0" ry="7.5" fill="#f3e9ea" stroke="#9c8a8c" stroke-width="0.7"/>
<ellipse cx="258.7" cy="433.7" rx="7.0" ry="7.5" fill="#f3e9ea" stroke="#9c8a8c" stroke-width="0.7"/>
<ellipse cx="248.3" cy="433.3" rx="7.0" ry="7.5" fill="#f3e9ea" stroke="#9c8a8c" stroke-width="0.7"/>
<ellipse cx="238.0" cy="433.0" rx="7.0" ry="7.5" fill="#f3e9ea" stroke="#9c8a8c" stroke-width="0.7"/>
<rect x="175" y="426" width="160" height="18" fill="url(#fade)"/>
<path d="M200,437 Q204,445 212,448" fill="none" stroke="#b0a0a0" stroke-width="0.8"/>
<path d="M235.5,112.0 C236.4,118.3 238.0,135.4 241.2,150.0 C244.4,164.6 250.6,183.1 254.9,199.7 C259.2,216.3 264.2,234.6 267.3,249.5 C270.4,264.4 271.4,279.4 273.5,289.0 C275.6,298.6 278.9,304.0 280.0,307.0" fill="none" stroke="#1d1d1d" stroke-width="1.6"/>
<path d="M245.3,117.0 C246.5,122.5 248.7,138.3 252.4,150.0 C256.1,161.7 261.9,174.9 267.3,187.3 C272.7,199.7 279.8,213.4 284.7,224.6 C289.6,235.8 293.3,243.7 297.0,254.4 C300.7,265.1 304.9,278.9 307.0,289.0 C309.1,299.1 309.8,305.7 309.6,315.0 C309.4,324.3 308.8,334.3 306.0,345.0 C303.2,355.7 295.2,373.3 293.0,379.0" fill="none" stroke="#1d1d1d" stroke-width="1.6"/>
<path d="M284.7,224.6 C285.1,228.8 287.4,241.3 287.2,249.5 C287.0,257.7 284.7,267.8 283.5,274.0 C282.3,280.2 280.6,284.8 280.0,287.0" fill="none" stroke="#1d1d1d" stroke-width="1.3"/>
<path d="M292.2,237.0 C293.2,243.2 297.8,263.5 298.4,274.3 C299.0,285.1 296.4,297.4 296.0,302.0" fill="none" stroke="#1d1d1d" stroke-width="1.3"/>
<path d="M230.5,117 L235.5,106 L240.5,117Z" fill="#1d1d1d" stroke="none" stroke-width="1"/>
<path d="M240.3,121 L245.3,110 L250.3,121Z" fill="#1d1d1d" stroke="none" stroke-width="1"/>
<path d="M280,307 q-3,0 -4,4 M280,307 q3,0 4,4" fill="none" stroke="#1d1d1d" stroke-width="1.1"/>
<path d="M280,287 q-3,0 -4,4 M280,287 q3,0 4,4" fill="none" stroke="#1d1d1d" stroke-width="1.1"/>
<path d="M296,302 q-3,0 -4,4 M296,302 q3,0 4,4" fill="none" stroke="#1d1d1d" stroke-width="1.1"/>
<path d="M293,379 q-3,0 -4,4 M293,379 q3,0 4,4" fill="none" stroke="#1d1d1d" stroke-width="1.1"/>
<path d="M225.7,102.0 C224.8,108.3 222.3,127.0 220.0,140.0 C217.7,153.0 214.7,166.7 212.0,180.0 C209.3,193.3 205.6,208.6 203.7,220.0 C201.8,231.4 201.5,238.1 200.4,248.3 C199.3,258.5 198.1,269.4 197.0,281.0 C195.9,292.6 194.3,304.8 194.0,318.0 C193.7,331.2 194.7,346.8 195.0,360.0 C195.3,373.2 195.8,390.8 196.0,397.0" fill="none" stroke="#3c80c0" stroke-width="2"/>
<path d="M200.4,248.3 C202.6,251.9 207.7,262.1 213.5,270.0 C219.3,277.9 227.8,288.0 235.0,296.0 C242.2,304.0 250.3,310.5 257.0,317.8 C263.7,325.1 272.3,336.0 275.4,339.6" fill="none" stroke="#3c80c0" stroke-width="2"/>
<path d="M197.0,281.0 C198.7,285.3 202.8,299.4 207.0,307.0 C211.2,314.6 216.9,321.4 222.0,326.5 C227.1,331.6 234.8,335.6 237.4,337.4" fill="none" stroke="#3c80c0" stroke-width="2"/>
<path d="M196.0,291.7 C194.6,297.1 190.7,313.9 187.4,324.0 C184.2,334.1 178.3,347.8 176.5,352.6" fill="none" stroke="#3c80c0" stroke-width="2"/>
<path d="M220.5,109 L225.7,97.5 L230.5,109Z" fill="#3c80c0" stroke="none" stroke-width="1"/>
<circle cx="237.4" cy="337.4" r="2.3" fill="#3c80c0"/>
<circle cx="275.4" cy="339.6" r="2.3" fill="#3c80c0"/>
<circle cx="176.5" cy="352.6" r="2.3" fill="#3c80c0"/>
<circle cx="196.0" cy="397.0" r="2.3" fill="#3c80c0"/>
<path d="M272,130 L244,151 M279,137 L257.3,165 M274.8,173.6 L264.8,177.4 M287.2,199.7 L262.3,208.4 M191.5,195 L203,196" fill="none" stroke="#6a6a6a" stroke-width="0.8"/>
<path d="M148,341 L176.5,352.6 M152.6,368.5 L237.4,337.4 M155,394 L275.4,339.6 M154,426 L196,397" fill="none" stroke="#5e5e5e" stroke-width="0.8"/>
<path d="M108,330 Q104,331 104,336 L104,380 Q104,385 99,386 Q104,387 104,392 L104,434 Q104,438 108,439" fill="none" stroke="#6a6a6a" stroke-width="0.9"/>
<path d="M242.7,6.3 C338.7,2 427.9,37.3 516.5,68.5 L522.9,66.5 L531.8,84.4 L510,88.2 L514,81.8 C426.1,49.3 338.8,8.5 242.7,10.5Z" fill="#d6d6d6" stroke="#686868" stroke-width="1.2"/>
<clipPath id="rbclip"><path d="M635.0,17.5 C639.5,17.2 643.7,14.7 650.0,14.7 C656.3,14.7 664.8,15.4 672.6,17.5 C680.4,19.6 689.2,22.9 697.0,27.0 C704.8,31.1 711.8,36.1 719.6,42.0 C727.4,47.9 737.8,57.0 744.0,62.6 C750.2,68.2 752.6,68.9 757.0,75.8 C761.4,82.7 766.8,95.0 770.3,104.0 C773.8,113.0 777.1,120.9 778.0,130.0 C778.9,139.1 777.0,149.9 775.7,158.6 C774.4,167.3 773.9,175.0 770.4,182.0 C766.9,189.0 757.7,195.3 754.6,200.8 C751.5,206.3 754.4,209.1 752.0,215.0 C749.6,220.9 745.3,231.3 740.0,236.0 C734.7,240.7 726.7,241.7 720.0,243.0 C713.3,244.3 704.3,242.8 700.0,244.0 C695.7,245.2 697.0,247.5 694.0,250.0 C691.0,252.5 685.5,260.7 682.0,259.0 C678.5,257.3 676.3,244.5 673.0,240.0 C669.7,235.5 666.5,234.5 662.0,232.0 C657.5,229.5 650.0,229.5 646.0,225.0 C642.0,220.5 641.0,208.5 638.0,205.0 C635.0,201.5 630.9,203.8 628.0,204.0 C625.1,204.2 623.5,204.4 620.8,206.0 C618.0,207.6 614.9,212.7 611.5,213.6 C608.1,214.5 604.3,213.2 600.3,211.7 C596.2,210.1 591.6,207.1 587.2,204.3 C582.8,201.5 577.7,197.8 574.0,195.0 C570.3,192.2 567.6,190.9 565.0,187.5 C562.4,184.1 559.7,179.8 558.4,174.5 C557.1,169.2 557.6,162.1 557.4,155.9 C557.2,149.7 557.1,142.8 557.4,137.2 C557.7,131.6 558.4,127.6 559.3,122.3 C560.2,117.0 562.0,111.9 563.0,105.6 C564.0,99.3 564.3,90.3 565.5,84.5 C566.7,78.7 567.9,74.5 570.0,70.6 C572.1,66.7 575.3,63.3 578.0,61.2 C580.7,59.1 585.0,59.8 586.0,58.0 C587.0,56.2 583.8,53.2 584.0,50.4 C584.2,47.6 585.2,43.6 587.3,41.0 C589.4,38.4 593.6,36.6 596.6,34.8 C599.6,33.0 602.4,32.5 605.0,30.0 C607.6,27.5 609.0,22.3 612.0,20.0 C615.0,17.7 619.2,16.6 623.0,16.2 C626.8,15.8 630.5,17.8 635.0,17.5Z"/></clipPath>
<path d="M635.0,17.5 C639.5,17.2 643.7,14.7 650.0,14.7 C656.3,14.7 664.8,15.4 672.6,17.5 C680.4,19.6 689.2,22.9 697.0,27.0 C704.8,31.1 711.8,36.1 719.6,42.0 C727.4,47.9 737.8,57.0 744.0,62.6 C750.2,68.2 752.6,68.9 757.0,75.8 C761.4,82.7 766.8,95.0 770.3,104.0 C773.8,113.0 777.1,120.9 778.0,130.0 C778.9,139.1 777.0,149.9 775.7,158.6 C774.4,167.3 773.9,175.0 770.4,182.0 C766.9,189.0 757.7,195.3 754.6,200.8 C751.5,206.3 754.4,209.1 752.0,215.0 C749.6,220.9 745.3,231.3 740.0,236.0 C734.7,240.7 726.7,241.7 720.0,243.0 C713.3,244.3 704.3,242.8 700.0,244.0 C695.7,245.2 697.0,247.5 694.0,250.0 C691.0,252.5 685.5,260.7 682.0,259.0 C678.5,257.3 676.3,244.5 673.0,240.0 C669.7,235.5 666.5,234.5 662.0,232.0 C657.5,229.5 650.0,229.5 646.0,225.0 C642.0,220.5 641.0,208.5 638.0,205.0 C635.0,201.5 630.9,203.8 628.0,204.0 C625.1,204.2 623.5,204.4 620.8,206.0 C618.0,207.6 614.9,212.7 611.5,213.6 C608.1,214.5 604.3,213.2 600.3,211.7 C596.2,210.1 591.6,207.1 587.2,204.3 C582.8,201.5 577.7,197.8 574.0,195.0 C570.3,192.2 567.6,190.9 565.0,187.5 C562.4,184.1 559.7,179.8 558.4,174.5 C557.1,169.2 557.6,162.1 557.4,155.9 C557.2,149.7 557.1,142.8 557.4,137.2 C557.7,131.6 558.4,127.6 559.3,122.3 C560.2,117.0 562.0,111.9 563.0,105.6 C564.0,99.3 564.3,90.3 565.5,84.5 C566.7,78.7 567.9,74.5 570.0,70.6 C572.1,66.7 575.3,63.3 578.0,61.2 C580.7,59.1 585.0,59.8 586.0,58.0 C587.0,56.2 583.8,53.2 584.0,50.4 C584.2,47.6 585.2,43.6 587.3,41.0 C589.4,38.4 593.6,36.6 596.6,34.8 C599.6,33.0 602.4,32.5 605.0,30.0 C607.6,27.5 609.0,22.3 612.0,20.0 C615.0,17.7 619.2,16.6 623.0,16.2 C626.8,15.8 630.5,17.8 635.0,17.5Z" fill="#cbc9c9" stroke="none" stroke-width="1"/>
<g clip-path="url(#rbclip)">
<ellipse cx="690" cy="45" rx="22" ry="10" fill="#d8d6d6" filter="url(#blur3)"/>
<ellipse cx="740" cy="100" rx="10" ry="25" fill="#d8d6d6" filter="url(#blur3)"/>
<ellipse cx="700" cy="90" rx="18" ry="8" fill="#d8d6d6" filter="url(#blur3)"/>
<ellipse cx="760" cy="150" rx="8" ry="22" fill="#d8d6d6" filter="url(#blur3)"/>
<ellipse cx="730" cy="170" rx="12" ry="10" fill="#d8d6d6" filter="url(#blur3)"/>
<ellipse cx="660" cy="55" rx="8" ry="14" fill="#d8d6d6" filter="url(#blur3)"/>
</g>
<path d="M635.0,17.5 C639.5,17.2 643.7,14.7 650.0,14.7 C656.3,14.7 664.8,15.4 672.6,17.5 C680.4,19.6 689.2,22.9 697.0,27.0 C704.8,31.1 711.8,36.1 719.6,42.0 C727.4,47.9 737.8,57.0 744.0,62.6 C750.2,68.2 752.6,68.9 757.0,75.8 C761.4,82.7 766.8,95.0 770.3,104.0 C773.8,113.0 777.1,120.9 778.0,130.0 C778.9,139.1 777.0,149.9 775.7,158.6 C774.4,167.3 773.9,175.0 770.4,182.0 C766.9,189.0 757.7,195.3 754.6,200.8 C751.5,206.3 754.4,209.1 752.0,215.0 C749.6,220.9 745.3,231.3 740.0,236.0 C734.7,240.7 726.7,241.7 720.0,243.0 C713.3,244.3 704.3,242.8 700.0,244.0 C695.7,245.2 697.0,247.5 694.0,250.0 C691.0,252.5 685.5,260.7 682.0,259.0 C678.5,257.3 676.3,244.5 673.0,240.0 C669.7,235.5 666.5,234.5 662.0,232.0 C657.5,229.5 650.0,229.5 646.0,225.0 C642.0,220.5 641.0,208.5 638.0,205.0 C635.0,201.5 630.9,203.8 628.0,204.0 C625.1,204.2 623.5,204.4 620.8,206.0 C618.0,207.6 614.9,212.7 611.5,213.6 C608.1,214.5 604.3,213.2 600.3,211.7 C596.2,210.1 591.6,207.1 587.2,204.3 C582.8,201.5 577.7,197.8 574.0,195.0 C570.3,192.2 567.6,190.9 565.0,187.5 C562.4,184.1 559.7,179.8 558.4,174.5 C557.1,169.2 557.6,162.1 557.4,155.9 C557.2,149.7 557.1,142.8 557.4,137.2 C557.7,131.6 558.4,127.6 559.3,122.3 C560.2,117.0 562.0,111.9 563.0,105.6 C564.0,99.3 564.3,90.3 565.5,84.5 C566.7,78.7 567.9,74.5 570.0,70.6 C572.1,66.7 575.3,63.3 578.0,61.2 C580.7,59.1 585.0,59.8 586.0,58.0 C587.0,56.2 583.8,53.2 584.0,50.4 C584.2,47.6 585.2,43.6 587.3,41.0 C589.4,38.4 593.6,36.6 596.6,34.8 C599.6,33.0 602.4,32.5 605.0,30.0 C607.6,27.5 609.0,22.3 612.0,20.0 C615.0,17.7 619.2,16.6 623.0,16.2 C626.8,15.8 630.5,17.8 635.0,17.5Z" fill="none" stroke="#4a4848" stroke-width="1.1"/>
<path d="M635.0,68.3 C639.7,69.2 652.7,73.7 663.0,74.0 C673.3,74.3 687.6,72.5 697.0,70.0 C706.4,67.5 715.5,62.9 719.6,58.9 C723.7,54.9 722.1,49.2 721.5,45.7 C720.9,42.2 716.9,39.3 716.0,38.0" fill="none" stroke="#4a4848" stroke-width="1"/>
<path d="M653.8,17.5 C653.8,20.3 651.6,28.5 653.8,34.4 C656.0,40.3 665.1,48.9 667.0,53.0 C668.9,57.1 665.3,57.9 665.0,58.9" fill="none" stroke="#4a4848" stroke-width="1"/>
<path d="M668.8,43.8 C671.3,44.8 677.6,48.4 683.9,49.5 C690.2,50.6 702.4,49.6 706.4,50.4 C710.4,51.1 707.7,53.4 708.0,54.0" fill="none" stroke="#4a4848" stroke-width="1"/>
<path d="M738.4,66.4 C737.5,68.0 734.6,72.9 733.0,76.0 C731.4,79.1 729.7,83.5 729.0,85.0" fill="none" stroke="#4a4848" stroke-width="1"/>
<path d="M715.8,89.0 C716.1,92.1 718.3,104.0 717.7,107.7 C717.1,111.5 713.0,110.9 712.0,111.5" fill="none" stroke="#4a4848" stroke-width="1"/>
<path d="M740.3,92.7 C739.2,93.6 735.9,96.1 734.0,98.0 C732.1,99.9 729.8,103.0 729.0,104.0" fill="none" stroke="#4a4848" stroke-width="1"/>
<path d="M755.3,89.0 C755.4,91.7 756.3,99.4 756.0,105.0 C755.7,110.6 753.8,119.8 753.4,122.8" fill="none" stroke="#4a4848" stroke-width="1"/>
<path d="M736.5,111.5 C735.4,112.2 731.9,114.8 730.0,116.0 C728.1,117.2 725.8,118.5 725.0,119.0" fill="none" stroke="#4a4848" stroke-width="1"/>
<path d="M762.8,100.0 C763.3,101.7 765.5,108.3 766.0,110.0" fill="none" stroke="#4a4848" stroke-width="1"/>
<path d="M655.0,80.0 C655.8,81.7 659.2,88.3 660.0,90.0" fill="none" stroke="#4a4848" stroke-width="1"/>
<path d="M680.0,82.0 C680.7,84.0 683.3,92.0 684.0,94.0" fill="none" stroke="#4a4848" stroke-width="1"/>
<path d="M700.0,86.0 C700.5,87.7 702.5,94.3 703.0,96.0" fill="none" stroke="#4a4848" stroke-width="1"/>
<path d="M690.0,20.0 C691.7,22.0 696.3,29.7 700.0,32.0 C703.7,34.3 710.0,33.7 712.0,34.0" fill="none" stroke="#4a4848" stroke-width="1"/>
<path d="M742.0,84.0 C743.0,86.0 747.0,94.0 748.0,96.0" fill="none" stroke="#4a4848" stroke-width="1"/>
<path d="M746.0,180.0 C747.0,182.0 751.0,190.0 752.0,192.0" fill="none" stroke="#4a4848" stroke-width="1"/>
<path d="M735.0,120.0 C736.5,121.0 742.5,125.0 744.0,126.0" fill="none" stroke="#4a4848" stroke-width="1"/>
<path d="M688.4,160.0 C693.5,159.8 711.1,161.5 719.0,159.0 C726.9,156.5 730.4,150.8 736.0,145.0 C741.6,139.2 749.4,129.8 752.6,124.0 C755.8,118.2 754.6,112.3 755.0,110.0" fill="none" stroke="#4a4848" stroke-width="1"/>
<path d="M720.5,117.0 C723.1,117.0 732.8,118.2 736.0,117.0 C739.2,115.8 739.3,111.2 740.0,110.0" fill="none" stroke="#4a4848" stroke-width="1"/>
<path d="M724.7,121.0 C724.7,122.7 724.7,129.3 724.7,131.0" fill="none" stroke="#4a4848" stroke-width="1"/>
<path d="M720.5,139.0 C723.1,138.2 733.4,134.8 736.0,134.0" fill="none" stroke="#4a4848" stroke-width="1"/>
<path d="M759.6,134.0 C759.1,136.8 757.1,147.2 756.8,150.5 C756.5,153.8 757.8,153.4 758.0,154.0" fill="none" stroke="#4a4848" stroke-width="1"/>
<path d="M749.8,163.0 C747.9,163.9 738.2,166.6 738.7,168.7 C739.2,170.8 748.0,172.6 752.6,175.7 C757.2,178.8 764.3,185.1 766.6,187.0" fill="none" stroke="#4a4848" stroke-width="1"/>
<path d="M775.0,157.0 C773.1,159.4 765.7,169.1 763.8,171.5" fill="none" stroke="#4a4848" stroke-width="1"/>
<clipPath id="wsclip"><path d="M639.3,22.0 C638.8,8.1 638.5,17.8 637.0,16.5 C635.5,15.2 632.2,14.3 630.0,14.5 C627.8,14.7 625.8,17.2 623.5,17.5 C621.2,17.8 618.2,15.8 616.0,16.0 C613.8,16.2 611.7,17.5 610.0,19.0 C608.3,20.5 607.0,22.8 606.0,25.0 C605.0,27.2 605.5,30.5 604.0,32.0 C602.5,33.5 599.3,33.2 597.0,34.0 C594.7,34.8 592.0,35.3 590.0,37.0 C588.0,38.7 586.0,41.5 585.0,44.0 C584.0,46.5 583.5,49.3 584.0,52.0 C584.5,54.7 586.2,58.0 588.0,60.0 C589.8,62.0 595.5,63.8 595.0,64.0 C594.5,64.2 588.2,61.7 585.0,61.5 C581.8,61.3 578.5,61.6 576.0,63.0 C573.5,64.4 571.7,67.2 570.0,70.0 C568.3,72.8 567.1,76.3 566.0,80.0 C564.9,83.7 563.6,88.7 563.5,92.0 C563.4,95.3 566.0,97.0 565.5,100.0 C565.0,103.0 561.6,106.3 560.5,110.0 C559.4,113.7 558.8,119.0 559.0,122.0 C559.2,125.0 561.8,125.0 561.5,128.0 C561.2,131.0 558.2,135.5 557.5,140.0 C556.8,144.5 556.7,151.3 557.0,155.0 C557.3,158.7 559.3,159.2 559.5,162.0 C559.7,164.8 557.7,168.7 558.0,172.0 C558.3,175.3 560.2,179.3 561.5,182.0 C562.8,184.7 563.9,185.8 566.0,188.0 C568.1,190.2 570.5,192.3 574.0,195.0 C577.5,197.7 582.7,201.2 587.0,204.0 C591.3,206.8 596.0,210.3 600.0,212.0 C604.0,213.7 607.7,214.8 611.0,214.0 C614.3,213.2 617.5,210.2 620.0,207.0 C622.5,203.8 623.7,198.5 626.0,195.0 C628.3,191.5 631.7,188.8 634.0,186.0 C636.3,183.2 639.0,192.3 640.0,178.0 C641.0,163.7 640.1,126.0 640.0,100.0 C639.9,74.0 639.8,35.9 639.3,22.0Z"/></clipPath>
<path d="M639.3,22.0 C638.8,8.1 638.5,17.8 637.0,16.5 C635.5,15.2 632.2,14.3 630.0,14.5 C627.8,14.7 625.8,17.2 623.5,17.5 C621.2,17.8 618.2,15.8 616.0,16.0 C613.8,16.2 611.7,17.5 610.0,19.0 C608.3,20.5 607.0,22.8 606.0,25.0 C605.0,27.2 605.5,30.5 604.0,32.0 C602.5,33.5 599.3,33.2 597.0,34.0 C594.7,34.8 592.0,35.3 590.0,37.0 C588.0,38.7 586.0,41.5 585.0,44.0 C584.0,46.5 583.5,49.3 584.0,52.0 C584.5,54.7 586.2,58.0 588.0,60.0 C589.8,62.0 595.5,63.8 595.0,64.0 C594.5,64.2 588.2,61.7 585.0,61.5 C581.8,61.3 578.5,61.6 576.0,63.0 C573.5,64.4 571.7,67.2 570.0,70.0 C568.3,72.8 567.1,76.3 566.0,80.0 C564.9,83.7 563.6,88.7 563.5,92.0 C563.4,95.3 566.0,97.0 565.5,100.0 C565.0,103.0 561.6,106.3 560.5,110.0 C559.4,113.7 558.8,119.0 559.0,122.0 C559.2,125.0 561.8,125.0 561.5,128.0 C561.2,131.0 558.2,135.5 557.5,140.0 C556.8,144.5 556.7,151.3 557.0,155.0 C557.3,158.7 559.3,159.2 559.5,162.0 C559.7,164.8 557.7,168.7 558.0,172.0 C558.3,175.3 560.2,179.3 561.5,182.0 C562.8,184.7 563.9,185.8 566.0,188.0 C568.1,190.2 570.5,192.3 574.0,195.0 C577.5,197.7 582.7,201.2 587.0,204.0 C591.3,206.8 596.0,210.3 600.0,212.0 C604.0,213.7 607.7,214.8 611.0,214.0 C614.3,213.2 617.5,210.2 620.0,207.0 C622.5,203.8 623.7,198.5 626.0,195.0 C628.3,191.5 631.7,188.8 634.0,186.0 C636.3,183.2 639.0,192.3 640.0,178.0 C641.0,163.7 640.1,126.0 640.0,100.0 C639.9,74.0 639.8,35.9 639.3,22.0Z" fill="#f1f0f0" stroke="none" stroke-width="1"/>
<g clip-path="url(#wsclip)">
<path d="M639.3,22.0 C638.8,8.1 638.5,17.8 637.0,16.5 C635.5,15.2 632.2,14.3 630.0,14.5 C627.8,14.7 625.8,17.2 623.5,17.5 C621.2,17.8 618.2,15.8 616.0,16.0 C613.8,16.2 611.7,17.5 610.0,19.0 C608.3,20.5 607.0,22.8 606.0,25.0 C605.0,27.2 605.5,30.5 604.0,32.0 C602.5,33.5 599.3,33.2 597.0,34.0 C594.7,34.8 592.0,35.3 590.0,37.0 C588.0,38.7 586.0,41.5 585.0,44.0 C584.0,46.5 583.5,49.3 584.0,52.0 C584.5,54.7 586.2,58.0 588.0,60.0 C589.8,62.0 595.5,63.8 595.0,64.0 C594.5,64.2 588.2,61.7 585.0,61.5 C581.8,61.3 578.5,61.6 576.0,63.0 C573.5,64.4 571.7,67.2 570.0,70.0 C568.3,72.8 567.1,76.3 566.0,80.0 C564.9,83.7 563.6,88.7 563.5,92.0 C563.4,95.3 566.0,97.0 565.5,100.0 C565.0,103.0 561.6,106.3 560.5,110.0 C559.4,113.7 558.8,119.0 559.0,122.0 C559.2,125.0 561.8,125.0 561.5,128.0 C561.2,131.0 558.2,135.5 557.5,140.0 C556.8,144.5 556.7,151.3 557.0,155.0 C557.3,158.7 559.3,159.2 559.5,162.0 C559.7,164.8 557.7,168.7 558.0,172.0 C558.3,175.3 560.2,179.3 561.5,182.0 C562.8,184.7 563.9,185.8 566.0,188.0 C568.1,190.2 570.5,192.3 574.0,195.0 C577.5,197.7 582.7,201.2 587.0,204.0 C591.3,206.8 596.0,210.3 600.0,212.0 C604.0,213.7 607.7,214.8 611.0,214.0 C614.3,213.2 617.5,210.2 620.0,207.0 C622.5,203.8 623.7,198.5 626.0,195.0 C628.3,191.5 631.7,188.8 634.0,186.0 C636.3,183.2 639.0,192.3 640.0,178.0 C641.0,163.7 640.1,126.0 640.0,100.0 C639.9,74.0 639.8,35.9 639.3,22.0Z" fill="none" stroke="#d3d1d1" stroke-width="9"/>
<ellipse cx="605.0" cy="136.0" rx="6.5" ry="16.0" fill="#cfcdcd"/>
<ellipse cx="619.0" cy="141.0" rx="5.5" ry="9.5" fill="#cfcdcd"/>
<ellipse cx="624.5" cy="114.0" rx="3.7" ry="6.6" fill="#cfcdcd"/>
<ellipse cx="601.0" cy="160.0" rx="6.5" ry="4.5" fill="#cfcdcd"/>
<ellipse cx="618.0" cy="106.0" rx="4.0" ry="8.0" fill="#cfcdcd"/>
<path d="M623.5,14.0 C623.4,16.0 623.2,22.0 623.0,26.0 C622.8,30.0 622.2,36.0 622.0,38.0" fill="none" stroke="#cdcbcb" stroke-width="5.5" stroke-linecap="round"/>
<path d="M613.7,45.7 C613.4,47.2 612.3,53.5 612.0,55.0" fill="none" stroke="#cdcbcb" stroke-width="5.5" stroke-linecap="round"/>
<path d="M595.0,63.6 C593.5,62.7 587.5,58.9 586.0,58.0" fill="none" stroke="#cdcbcb" stroke-width="5.5" stroke-linecap="round"/>
<path d="M565.5,98.0 C566.6,99.0 570.2,102.0 572.0,104.0 C573.8,106.0 575.3,109.0 576.0,110.0" fill="none" stroke="#cdcbcb" stroke-width="5.5" stroke-linecap="round"/>
<path d="M561.5,126.0 C562.6,126.7 566.1,128.7 568.0,130.0 C569.9,131.3 572.2,133.3 573.0,134.0" fill="none" stroke="#cdcbcb" stroke-width="5.5" stroke-linecap="round"/>
<path d="M574.0,139.0 C575.0,139.6 577.5,146.5 580.0,142.8 C582.5,139.1 587.5,121.1 589.0,116.8" fill="none" stroke="#cdcbcb" stroke-width="5.5" stroke-linecap="round"/>
<path d="M580.0,142.8 C580.9,145.3 584.5,155.2 585.4,157.7" fill="none" stroke="#cdcbcb" stroke-width="5.5" stroke-linecap="round"/>
<path d="M559.5,160.0 C560.6,160.7 564.1,162.8 566.0,164.0 C567.9,165.2 570.2,166.5 571.0,167.0" fill="none" stroke="#cdcbcb" stroke-width="5.5" stroke-linecap="round"/>
<path d="M566.0,186.0 C567.0,186.0 570.2,186.3 572.0,186.0 C573.8,185.7 576.2,184.3 577.0,184.0" fill="none" stroke="#cdcbcb" stroke-width="5.5" stroke-linecap="round"/>
<path d="M604.0,210.0 C604.3,208.0 605.7,200.0 606.0,198.0" fill="none" stroke="#cdcbcb" stroke-width="5.5" stroke-linecap="round"/>
<path d="M600.0,40.0 C599.3,41.3 596.3,45.3 596.0,48.0 C595.7,50.7 597.7,54.7 598.0,56.0" fill="none" stroke="#cdcbcb" stroke-width="5.5" stroke-linecap="round"/>
</g>
<path d="M623.5,17.0 C623.4,18.5 623.2,22.5 623.0,26.0 C622.8,29.5 622.2,36.0 622.0,38.0" fill="none" stroke="#3e3c3c" stroke-width="1.1"/>
<path d="M613.7,45.7 C613.4,47.2 612.3,53.5 612.0,55.0" fill="none" stroke="#3e3c3c" stroke-width="1.1"/>
<path d="M565.5,100.0 C566.6,100.7 570.2,102.3 572.0,104.0 C573.8,105.7 575.3,109.0 576.0,110.0" fill="none" stroke="#3e3c3c" stroke-width="1.1"/>
<path d="M561.5,128.0 C562.6,128.3 566.1,129.0 568.0,130.0 C569.9,131.0 572.2,133.3 573.0,134.0" fill="none" stroke="#3e3c3c" stroke-width="1.1"/>
<path d="M574.0,139.0 C575.0,139.6 577.5,146.5 580.0,142.8 C582.5,139.1 587.5,121.1 589.0,116.8" fill="none" stroke="#3e3c3c" stroke-width="1.1"/>
<path d="M580.0,142.8 C580.9,145.3 584.5,155.2 585.4,157.7" fill="none" stroke="#3e3c3c" stroke-width="1.1"/>
<path d="M559.5,162.0 C560.6,162.3 564.1,163.2 566.0,164.0 C567.9,164.8 570.2,166.5 571.0,167.0" fill="none" stroke="#3e3c3c" stroke-width="1.1"/>
<path d="M566.0,188.0 C567.0,187.7 570.2,186.7 572.0,186.0 C573.8,185.3 576.2,184.3 577.0,184.0" fill="none" stroke="#3e3c3c" stroke-width="1.1"/>
<path d="M604.0,212.0 C604.3,209.7 605.7,200.3 606.0,198.0" fill="none" stroke="#3e3c3c" stroke-width="1.1"/>
<path d="M586,59 L595,64 L588,62Z" fill="#333" stroke="#333" stroke-width="1.6"/>
<path d="M639.3,22.0 C638.8,8.1 638.5,17.8 637.0,16.5 C635.5,15.2 632.2,14.3 630.0,14.5 C627.8,14.7 625.8,17.2 623.5,17.5 C621.2,17.8 618.2,15.8 616.0,16.0 C613.8,16.2 611.7,17.5 610.0,19.0 C608.3,20.5 607.0,22.8 606.0,25.0 C605.0,27.2 605.5,30.5 604.0,32.0 C602.5,33.5 599.3,33.2 597.0,34.0 C594.7,34.8 592.0,35.3 590.0,37.0 C588.0,38.7 586.0,41.5 585.0,44.0 C584.0,46.5 583.5,49.3 584.0,52.0 C584.5,54.7 586.2,58.0 588.0,60.0 C589.8,62.0 595.5,63.8 595.0,64.0 C594.5,64.2 588.2,61.7 585.0,61.5 C581.8,61.3 578.5,61.6 576.0,63.0 C573.5,64.4 571.7,67.2 570.0,70.0 C568.3,72.8 567.1,76.3 566.0,80.0 C564.9,83.7 563.6,88.7 563.5,92.0 C563.4,95.3 566.0,97.0 565.5,100.0 C565.0,103.0 561.6,106.3 560.5,110.0 C559.4,113.7 558.8,119.0 559.0,122.0 C559.2,125.0 561.8,125.0 561.5,128.0 C561.2,131.0 558.2,135.5 557.5,140.0 C556.8,144.5 556.7,151.3 557.0,155.0 C557.3,158.7 559.3,159.2 559.5,162.0 C559.7,164.8 557.7,168.7 558.0,172.0 C558.3,175.3 560.2,179.3 561.5,182.0 C562.8,184.7 563.9,185.8 566.0,188.0 C568.1,190.2 570.5,192.3 574.0,195.0 C577.5,197.7 582.7,201.2 587.0,204.0 C591.3,206.8 596.0,210.3 600.0,212.0 C604.0,213.7 607.7,214.8 611.0,214.0 C614.3,213.2 617.5,210.2 620.0,207.0 C622.5,203.8 623.7,198.5 626.0,195.0 C628.3,191.5 631.7,188.8 634.0,186.0 C636.3,183.2 639.0,192.3 640.0,178.0 C641.0,163.7 640.1,126.0 640.0,100.0 C639.9,74.0 639.8,35.9 639.3,22.0Z" fill="none" stroke="#555353" stroke-width="0.9"/>
<path d="M620.8,206.0 C620.5,202.3 623.5,196.2 626.0,192.0 C628.5,187.8 632.3,183.3 636.0,181.0 C639.7,178.7 645.3,176.2 648.0,178.0 C650.7,179.8 652.3,186.0 652.0,192.0 C651.7,198.0 648.7,209.3 646.0,214.0 C643.3,218.7 639.0,220.0 636.0,220.0 C633.0,220.0 630.5,216.3 628.0,214.0 C625.5,211.7 621.1,209.7 620.8,206.0Z" fill="#9c9a9a" stroke="#4a4848" stroke-width="0.7"/>
<path d="M624.0,108.0 C628.0,107.2 641.5,112.0 650.0,115.0 C658.5,118.0 669.0,122.2 675.0,126.0 C681.0,129.8 684.5,134.0 686.0,138.0 C687.5,142.0 685.3,147.0 684.0,150.0 C682.7,153.0 681.7,154.5 678.0,156.0 C674.3,157.5 667.1,158.5 662.0,159.0 C656.9,159.5 651.6,160.2 647.6,159.0 C643.6,157.8 640.6,155.5 638.0,152.0 C635.4,148.5 634.0,143.3 632.0,138.0 C630.0,132.7 627.3,125.0 626.0,120.0 C624.7,115.0 620.0,108.8 624.0,108.0Z" fill="#767474" stroke="#3e3c3c" stroke-width="0.8"/>
<path d="M622.0,100.0 C624.8,98.0 637.5,99.7 644.0,100.0 C650.5,100.3 653.3,100.0 661.0,102.0 C668.7,104.0 682.8,107.7 690.0,112.0 C697.2,116.3 701.4,122.8 704.0,127.6 C706.6,132.4 707.1,137.6 705.6,141.0 C704.1,144.4 698.7,148.0 695.0,148.0 C691.3,148.0 686.7,145.0 683.4,141.0 C680.1,137.0 681.6,128.2 675.0,124.0 C668.4,119.8 652.0,117.6 644.0,115.6 C636.0,113.6 630.7,114.6 627.0,112.0 C623.3,109.4 619.2,102.0 622.0,100.0Z" fill="#e4e2e2" stroke="#4a4848" stroke-width="0.9"/>
<path d="M626.0,113.0 C629.7,112.7 642.2,114.8 650.0,117.0 C657.8,119.2 667.3,122.7 673.0,126.0 C678.7,129.3 682.8,134.8 684.0,137.0 C685.2,139.2 682.3,140.0 680.0,139.0 C677.7,138.0 675.0,133.8 670.0,131.0 C665.0,128.2 657.0,124.0 650.0,122.0 C643.0,120.0 632.0,120.5 628.0,119.0 C624.0,117.5 622.3,113.3 626.0,113.0Z" fill="#5e5c5c" stroke="none" stroke-width="1"/>
<path d="M630.5,121.7 C635.4,122.2 650.9,122.6 660.0,125.0 C669.1,127.4 680.8,134.2 685.0,136.0" fill="none" stroke="#a9a7a7" stroke-width="3"/>
<path d="M630.5,121.7 C635.4,122.2 650.9,122.6 660.0,125.0 C669.1,127.4 680.8,134.2 685.0,136.0" fill="none" stroke="#444" stroke-width="0.5"/>
<circle cx="654.4" cy="139.5" r="2.2" fill="#f2f2f2"/>
<path d="M679.0,143.0 C679.7,141.2 683.5,138.5 686.0,139.0 C688.5,139.5 693.3,143.8 694.0,146.0 C694.7,148.2 692.0,151.3 690.0,152.0 C688.0,152.7 683.8,151.5 682.0,150.0 C680.2,148.5 678.3,144.8 679.0,143.0Z" fill="#d8d6d6" stroke="#555" stroke-width="0.6"/>
<path d="M640.0,162.0 C641.2,158.3 647.3,157.0 650.0,158.0 C652.7,159.0 655.7,164.0 656.0,168.0 C656.3,172.0 654.2,180.0 652.0,182.0 C649.8,184.0 645.0,183.3 643.0,180.0 C641.0,176.7 638.8,165.7 640.0,162.0Z" fill="#8a8888" stroke="#444" stroke-width="0.7"/>
<path d="M649.0,183.0 C647.1,182.3 645.5,184.2 643.7,187.6 C642.0,191.0 638.0,197.3 638.5,203.5 C639.0,209.7 642.0,218.9 646.4,224.6 C650.8,230.3 659.6,234.7 664.9,237.8 C670.2,240.9 676.8,245.6 678.0,243.0 C679.2,240.4 674.7,228.3 672.0,222.0 C669.3,215.7 664.8,210.0 662.0,205.0 C659.2,200.0 657.2,195.7 655.0,192.0 C652.8,188.3 650.9,183.7 649.0,183.0Z" fill="#8a8888" stroke="#3e3c3c" stroke-width="0.8"/>
<path d="M655.1,220.3 L648.1,228.7" fill="none" stroke="#3e3c3c" stroke-width="0.7"/>
<path d="M652.5,217.6 L643.9,224.5" fill="none" stroke="#3e3c3c" stroke-width="0.7"/>
<path d="M650.3,214.4 L640.6,219.6" fill="none" stroke="#3e3c3c" stroke-width="0.7"/>
<path d="M648.9,210.8 L638.4,214.1" fill="none" stroke="#3e3c3c" stroke-width="0.7"/>
<path d="M648.1,207.1 L637.2,208.2" fill="none" stroke="#3e3c3c" stroke-width="0.7"/>
<path d="M648.1,203.3 L637.1,202.3" fill="none" stroke="#3e3c3c" stroke-width="0.7"/>
<path d="M648.8,199.5 L638.2,196.5" fill="none" stroke="#3e3c3c" stroke-width="0.7"/>
<path d="M650.2,195.9 L640.4,190.9" fill="none" stroke="#3e3c3c" stroke-width="0.7"/>
<path d="M652.2,192.7 L643.6,185.9" fill="none" stroke="#3e3c3c" stroke-width="0.7"/>
<path d="M654.9,189.9 L647.7,181.6" fill="none" stroke="#3e3c3c" stroke-width="0.7"/>
<path d="M652.0,160.0 C654.3,157.3 662.8,156.2 668.0,156.0 C673.2,155.8 679.9,153.3 683.3,159.0 C686.7,164.7 687.3,179.5 688.6,190.0 C689.9,200.5 690.3,212.3 691.2,222.0 C692.1,231.7 695.6,241.8 693.9,248.0 C692.1,254.2 684.2,260.7 680.7,259.0 C677.2,257.3 675.9,244.0 672.8,237.8 C669.7,231.6 666.2,226.0 662.2,222.0 C658.2,218.0 652.1,217.5 649.0,214.0 C645.9,210.5 643.7,205.6 643.7,200.8 C643.7,196.0 647.3,189.8 649.0,185.0 C650.7,180.2 653.5,176.2 654.0,172.0 C654.5,167.8 649.7,162.7 652.0,160.0Z" fill="#e5e3e3" stroke="#4e4c4c" stroke-width="0.8"/>
<ellipse cx="720" cy="203" rx="32.5" ry="39.5" fill="#8e8c8c" stroke="#4a4848" stroke-width="1"/>
<ellipse cx="719" cy="201" rx="28.5" ry="35" fill="#a3a1a1" stroke="#5a5858" stroke-width="0.6"/>
<path d="M748.5,203.0 L752.5,203.0" fill="none" stroke="#5a5858" stroke-width="0.55"/>
<path d="M748.3,207.6 L752.2,208.2" fill="none" stroke="#5a5858" stroke-width="0.55"/>
<path d="M747.5,212.1 L751.4,213.2" fill="none" stroke="#5a5858" stroke-width="0.55"/>
<path d="M746.3,216.4 L750.0,218.1" fill="none" stroke="#5a5858" stroke-width="0.55"/>
<path d="M744.7,220.5 L748.1,222.8" fill="none" stroke="#5a5858" stroke-width="0.55"/>
<path d="M742.6,224.3 L745.8,227.0" fill="none" stroke="#5a5858" stroke-width="0.55"/>
<path d="M740.2,227.7 L743.0,230.9" fill="none" stroke="#5a5858" stroke-width="0.55"/>
<path d="M737.3,230.8 L739.8,234.3" fill="none" stroke="#5a5858" stroke-width="0.55"/>
<path d="M734.2,233.3 L736.2,237.2" fill="none" stroke="#5a5858" stroke-width="0.55"/>
<path d="M730.9,235.3 L732.4,239.5" fill="none" stroke="#5a5858" stroke-width="0.55"/>
<path d="M727.4,236.8 L728.4,241.2" fill="none" stroke="#5a5858" stroke-width="0.55"/>
<path d="M723.7,237.7 L724.2,242.2" fill="none" stroke="#5a5858" stroke-width="0.55"/>
<path d="M720.0,238.0 L720.0,242.5" fill="none" stroke="#5a5858" stroke-width="0.55"/>
<path d="M716.3,237.7 L715.8,242.2" fill="none" stroke="#5a5858" stroke-width="0.55"/>
<path d="M712.6,236.8 L711.6,241.2" fill="none" stroke="#5a5858" stroke-width="0.55"/>
<path d="M709.1,235.3 L707.6,239.5" fill="none" stroke="#5a5858" stroke-width="0.55"/>
<path d="M705.8,233.3 L703.8,237.2" fill="none" stroke="#5a5858" stroke-width="0.55"/>
<path d="M702.7,230.8 L700.2,234.3" fill="none" stroke="#5a5858" stroke-width="0.55"/>
<path d="M699.8,227.7 L697.0,230.9" fill="none" stroke="#5a5858" stroke-width="0.55"/>
<path d="M697.4,224.3 L694.2,227.0" fill="none" stroke="#5a5858" stroke-width="0.55"/>
<path d="M695.3,220.5 L691.9,222.8" fill="none" stroke="#5a5858" stroke-width="0.55"/>
<path d="M693.7,216.4 L690.0,218.1" fill="none" stroke="#5a5858" stroke-width="0.55"/>
<path d="M692.5,212.1 L688.6,213.2" fill="none" stroke="#5a5858" stroke-width="0.55"/>
<path d="M691.7,207.6 L687.8,208.2" fill="none" stroke="#5a5858" stroke-width="0.55"/>
<path d="M691.5,203.0 L687.5,203.0" fill="none" stroke="#5a5858" stroke-width="0.55"/>
<path d="M691.7,198.4 L687.8,197.8" fill="none" stroke="#5a5858" stroke-width="0.55"/>
<path d="M692.5,193.9 L688.6,192.8" fill="none" stroke="#5a5858" stroke-width="0.55"/>
<path d="M693.7,189.6 L690.0,187.9" fill="none" stroke="#5a5858" stroke-width="0.55"/>
<path d="M695.3,185.5 L691.9,183.2" fill="none" stroke="#5a5858" stroke-width="0.55"/>
<path d="M697.4,181.7 L694.2,179.0" fill="none" stroke="#5a5858" stroke-width="0.55"/>
<path d="M699.8,178.3 L697.0,175.1" fill="none" stroke="#5a5858" stroke-width="0.55"/>
<path d="M702.7,175.2 L700.2,171.7" fill="none" stroke="#5a5858" stroke-width="0.55"/>
<path d="M705.8,172.7 L703.8,168.8" fill="none" stroke="#5a5858" stroke-width="0.55"/>
<path d="M709.1,170.7 L707.6,166.5" fill="none" stroke="#5a5858" stroke-width="0.55"/>
<path d="M712.6,169.2 L711.6,164.8" fill="none" stroke="#5a5858" stroke-width="0.55"/>
<path d="M716.3,168.3 L715.8,163.8" fill="none" stroke="#5a5858" stroke-width="0.55"/>
<path d="M720.0,168.0 L720.0,163.5" fill="none" stroke="#5a5858" stroke-width="0.55"/>
<path d="M723.7,168.3 L724.2,163.8" fill="none" stroke="#5a5858" stroke-width="0.55"/>
<path d="M727.4,169.2 L728.4,164.8" fill="none" stroke="#5a5858" stroke-width="0.55"/>
<path d="M730.9,170.7 L732.4,166.5" fill="none" stroke="#5a5858" stroke-width="0.55"/>
<path d="M734.2,172.7 L736.2,168.8" fill="none" stroke="#5a5858" stroke-width="0.55"/>
<path d="M737.3,175.2 L739.8,171.7" fill="none" stroke="#5a5858" stroke-width="0.55"/>
<path d="M740.2,178.3 L743.0,175.1" fill="none" stroke="#5a5858" stroke-width="0.55"/>
<path d="M742.6,181.7 L745.8,179.0" fill="none" stroke="#5a5858" stroke-width="0.55"/>
<path d="M744.7,185.5 L748.1,183.2" fill="none" stroke="#5a5858" stroke-width="0.55"/>
<path d="M746.3,189.6 L750.0,187.9" fill="none" stroke="#5a5858" stroke-width="0.55"/>
<path d="M747.5,193.9 L751.4,192.8" fill="none" stroke="#5a5858" stroke-width="0.55"/>
<path d="M748.3,198.4 L752.2,197.8" fill="none" stroke="#5a5858" stroke-width="0.55"/>
<path d="M718.6,196.5 C720.3,197.2 724.6,199.6 728.7,200.9 C732.8,202.3 740.7,203.8 743.1,204.3" fill="none" stroke="#3e3c3c" stroke-width="0.8"/>
<path d="M719.7,199.2 C721.1,200.2 724.3,203.4 727.7,205.4 C731.2,207.4 738.4,210.3 740.5,211.3" fill="none" stroke="#3e3c3c" stroke-width="0.8"/>
<path d="M718.4,202.0 C719.5,203.2 721.7,206.9 724.6,209.5 C727.6,212.1 734.2,216.4 736.1,217.8" fill="none" stroke="#3e3c3c" stroke-width="0.8"/>
<path d="M714.9,203.3 C715.8,204.9 717.3,209.5 719.9,213.2 C722.5,216.8 728.7,223.2 730.5,225.3" fill="none" stroke="#3e3c3c" stroke-width="0.8"/>
<path d="M713.9,207.7 C714.3,209.2 714.5,213.3 716.3,216.9 C718.1,220.4 723.4,227.0 724.8,229.0" fill="none" stroke="#3e3c3c" stroke-width="0.8"/>
<path d="M711.2,207.5 C711.3,209.5 710.8,214.7 712.2,219.4 C713.6,224.1 718.4,233.0 719.6,235.7" fill="none" stroke="#3e3c3c" stroke-width="0.8"/>
<path d="M707.7,206.2 C707.4,208.1 705.4,213.0 705.8,217.7 C706.2,222.4 709.4,231.6 710.2,234.4" fill="none" stroke="#3e3c3c" stroke-width="0.8"/>
<path d="M705.3,207.5 C704.9,208.8 702.9,211.9 703.3,215.4 C703.6,218.8 706.6,226.0 707.3,228.1" fill="none" stroke="#3e3c3c" stroke-width="0.8"/>
<path d="M704.4,202.9 C703.7,204.2 700.7,207.1 700.2,210.4 C699.7,213.7 701.2,220.7 701.4,222.8" fill="none" stroke="#3e3c3c" stroke-width="0.8"/>
<path d="M702.0,199.9 C701.0,200.6 697.3,202.0 696.0,204.1 C694.8,206.2 695.0,211.3 694.8,212.7" fill="none" stroke="#3e3c3c" stroke-width="0.8"/>
<path d="M700.6,197.8 C699.7,198.0 696.1,198.2 694.9,199.4 C693.7,200.6 693.7,204.0 693.4,204.9" fill="none" stroke="#3e3c3c" stroke-width="0.8"/>
<path d="M701.8,196.0 C700.9,196.0 697.6,195.6 696.4,196.2 C695.3,196.8 695.2,199.0 695.0,199.5" fill="none" stroke="#3e3c3c" stroke-width="0.8"/>
<path d="M701.1,191.8 C700.5,191.2 698.2,189.4 697.5,188.7 C696.8,188.0 697.0,187.6 696.9,187.4" fill="none" stroke="#3e3c3c" stroke-width="0.8"/>
<path d="M702.3,189.2 C702.0,188.5 700.4,186.0 700.1,184.6 C699.8,183.2 700.4,181.4 700.4,180.7" fill="none" stroke="#3e3c3c" stroke-width="0.8"/>
<path d="M704.2,186.0 C704.2,185.1 703.9,182.4 704.3,180.5 C704.7,178.7 706.1,175.7 706.5,174.8" fill="none" stroke="#3e3c3c" stroke-width="0.8"/>
<path d="M706.8,185.5 C707.0,184.2 707.2,180.5 707.9,177.6 C708.6,174.6 710.3,169.6 710.8,168.0" fill="none" stroke="#3e3c3c" stroke-width="0.8"/>
<path d="M709.9,185.9 C710.5,184.5 712.1,180.7 713.6,177.4 C715.2,174.0 718.2,167.9 719.1,166.1" fill="none" stroke="#3e3c3c" stroke-width="0.8"/>
<path d="M711.5,185.5 C712.3,184.3 714.5,181.1 716.4,178.3 C718.4,175.4 722.1,169.9 723.2,168.2" fill="none" stroke="#3e3c3c" stroke-width="0.8"/>
<path d="M714.3,186.1 C715.3,185.5 718.0,184.0 720.3,182.2 C722.7,180.5 727.2,176.7 728.6,175.6" fill="none" stroke="#3e3c3c" stroke-width="0.8"/>
<path d="M718.2,187.8 C719.6,187.5 723.3,187.0 726.5,185.7 C729.6,184.5 735.4,181.4 737.2,180.5" fill="none" stroke="#3e3c3c" stroke-width="0.8"/>
<path d="M718.5,192.0 C720.2,191.9 724.7,192.4 728.5,191.9 C732.4,191.5 739.6,189.8 741.9,189.4" fill="none" stroke="#3e3c3c" stroke-width="0.8"/>
<path d="M720.2,194.0 C721.7,194.4 725.6,195.9 729.2,196.4 C732.9,196.9 739.9,196.8 742.1,196.9" fill="none" stroke="#3e3c3c" stroke-width="0.8"/>
<ellipse cx="711" cy="197" rx="6" ry="7" fill="#e4e2e2" filter="url(#blur1)"/>
<path d="M710,196 L724,181 M710,196 L731,197 M710,196 L717,213 M710,196 L700,187 M710,196 L711,177 M710,196 L726,208 M710,196 L702,210 M710,196 L721,189" fill="none" stroke="#f0f0f0" stroke-width="1.6"/>
<ellipse cx="688" cy="236.5" rx="3.3" ry="12" fill="#cc2a50" transform="rotate(-10 688 236.5)"/>
<path d="M690,250 L696,262 M686,252 L690,264" fill="none" stroke="#555" stroke-width="0.6"/>
<path d="M630,150.4 L643.2,150.4 L643.2,172.8 L630,172.8Z" fill="#f6f4ec" stroke="#6a6a6a" stroke-width="0.8" fill-opacity="0.75"/>
<path d="M632,154 L642,154 L640,170Z" fill="#e6d698" stroke="none" stroke-width="1"/>
<path d="M643,163 q5,-3 9,1" fill="none" stroke="#e6d070" stroke-width="2.2"/>
<path d="M639,156 L663,93" fill="none" stroke="#f4f4f4" stroke-width="1.8"/>
<path d="M639,156 L663,93" fill="none" stroke="#666" stroke-width="0.5"/>
<path d="M630,158.5 C625.0,160.1 608.7,163.4 600.0,168.0 C591.3,172.6 584.3,178.7 578.0,186.0 C571.7,193.3 564.7,207.7 562.0,212.0 L549,214 L554,234 L572.6,221 L570.5,219 C572.8,214.7 578.4,200.5 584.0,193.0 C589.6,185.5 596.3,179.2 604.0,174.0 C611.7,168.8 625.7,163.6 630.0,161.5Z" fill="#d5d5d5" stroke="#6c6c6c" stroke-width="0.8"/>
<rect x="418.5" y="239.5" width="185" height="209" fill="#dedbdb"/>
<path d="M418.5,268.0 C420.6,272.7 427.0,286.6 431.0,296.4 C435.0,306.2 438.6,317.7 442.4,327.0 C446.2,336.3 448.9,344.4 453.6,352.3 C458.3,360.2 463.9,366.8 470.4,374.7 C476.9,382.6 485.7,393.5 492.7,400.0 C499.7,406.5 504.4,409.6 512.3,413.8 C520.2,418.0 529.5,421.3 540.0,425.0 C550.5,428.7 564.5,432.1 575.0,436.0 C585.5,439.9 598.3,446.4 603.0,448.5 L418.5,448.5Z" fill="#fbfbfb" stroke="none" stroke-width="1"/>
<path d="M578.5,239.5 C579.1,244.6 581.2,259.9 582.0,270.0 C582.8,280.1 582.9,288.3 583.0,300.0 C583.1,311.7 582.0,323.3 582.5,340.0 C583.0,356.7 584.1,384.7 586.0,400.0 C587.9,415.3 591.2,423.9 594.0,432.0 C596.8,440.1 601.5,445.8 603.0,448.5 L603.5,239.5Z" fill="#b4aeac" stroke="none" stroke-width="1"/>
<path d="M578.5,239.5 C579.1,244.6 581.2,259.9 582.0,270.0 C582.8,280.1 582.9,288.3 583.0,300.0 C583.1,311.7 582.0,323.3 582.5,340.0 C583.0,356.7 584.1,384.7 586.0,400.0 C587.9,415.3 591.2,423.9 594.0,432.0 C596.8,440.1 601.5,445.8 603.0,448.5" fill="none" stroke="#e8e6e6" stroke-width="2.5" opacity="0.7"/>
<path d="M603.5,239.5 L603.5,448.5" fill="none" stroke="#5a5858" stroke-width="1.5"/>
<ellipse cx="508" cy="294.5" rx="62" ry="22.5" fill="#f6d7a2" stroke="#fbead0" stroke-width="2"/>
<path d="M468.0,374.0 C465.2,367.7 472.0,364.8 476.0,362.0 C480.0,359.2 481.3,358.5 492.0,357.5 C502.7,356.5 526.2,355.9 540.0,356.0 C553.8,356.1 568.3,354.6 575.0,358.0 C581.7,361.4 579.7,367.9 580.4,376.6 C581.1,385.3 579.6,401.1 579.0,410.0 C578.4,418.9 580.2,426.7 577.0,430.0 C573.8,433.3 566.2,430.8 560.0,430.0 C553.8,429.2 548.0,427.7 540.0,425.0 C532.0,422.3 520.2,418.0 512.3,413.8 C504.4,409.6 500.1,406.6 492.7,400.0 C485.3,393.4 470.8,380.3 468.0,374.0Z" fill="#f8e8a2" stroke="none" stroke-width="1"/>
<path d="M418.5,268.0 C420.6,272.7 427.0,286.6 431.0,296.4 C435.0,306.2 438.6,317.7 442.4,327.0 C446.2,336.3 448.9,344.4 453.6,352.3 C458.3,360.2 463.9,366.8 470.4,374.7 C476.9,382.6 485.7,393.5 492.7,400.0 C499.7,406.5 504.4,409.6 512.3,413.8 C520.2,418.0 529.5,421.3 540.0,425.0 C550.5,428.7 564.5,432.1 575.0,436.0 C585.5,439.9 598.3,446.4 603.0,448.5" fill="none" stroke="#6a6868" stroke-width="0.9"/>
<path d="M438.8,240.3 L459,294.7" fill="none" stroke="#555" stroke-width="0.8"/>
<path d="M418.5,240.3 L418.5,448.5 L603,448.5" fill="none" stroke="#6a6868" stroke-width="1.2"/>
<path d="M448.4,239 L603.5,239" fill="none" stroke="#777" stroke-width="1.6"/>
<path d="M506,303 C498,330 502,360 513,377" fill="none" stroke="#9c8460" stroke-width="3.6"/>
<path d="M506,303 C498,330 502,360 513,377" fill="none" stroke="#c9b48c" stroke-width="1.8"/>
<path d="M519,303 C532,328 546,350 551,372" fill="none" stroke="#9c8460" stroke-width="3.6"/>
<path d="M519,303 C532,328 546,350 551,372" fill="none" stroke="#c9b48c" stroke-width="1.8"/>
<path d="M524,291 C565,290 600,285 640,268 C660,258 674,247 685,239" fill="none" stroke="#a09060" stroke-width="3.2"/>
<path d="M524,291 C565,290 600,285 640,268 C660,258 674,247 685,239" fill="none" stroke="#e2d69c" stroke-width="1.8"/>
<path d="M681,243 L688,235 L686,245Z" fill="#a09060" stroke="none" stroke-width="1"/>
<path d="M508.6,279.7 Q512.4,287.2 519.3,281.6 Q516.5,290.0 525.8,290.9 Q517.4,294.6 523.1,300.5 Q515.2,298.5 515.8,306.7 Q511.0,300.0 506.4,306.2 Q506.8,298.5 498.0,301.0 Q504.6,294.3 497.5,289.9 Q506.6,288.7 508.6,279.7Z" fill="#ebdc9a" stroke="#a08a50" stroke-width="1"/>
<circle cx="512.6" cy="292.8" r="4.2" fill="#dcbc4c" filter="url(#blur1)"/>
<ellipse cx="515.5" cy="387" rx="10" ry="11" fill="#c9986c" stroke="#7a5a40" stroke-width="0.8"/>
<ellipse cx="515.5" cy="388" rx="5" ry="6" fill="#b36c4a"/>
<path d="M525,383 Q535,377 544,381" fill="none" stroke="#a08a60" stroke-width="2.6"/>
<path d="M525,383 Q535,377 544,381" fill="none" stroke="#e8d8b0" stroke-width="1.2"/>
<ellipse cx="553.6" cy="382.4" rx="10" ry="11" fill="#ebc690" stroke="#8a6a40" stroke-width="0.8"/>
<ellipse cx="553" cy="382" rx="5" ry="6" fill="#e6aa62"/>
<path d="M464.0,457.6 C464.6,453.5 465.6,439.1 467.5,432.8 C469.4,426.5 471.6,424.3 475.4,419.6 C479.1,414.9 485.9,408.6 490.0,404.7 C494.1,400.8 498.3,397.9 500.0,396.5" fill="none" stroke="#e8a53c" stroke-width="2.6"/>
<path d="M503.9,393.3 L500.5,401.9 L494.8,394.9 Z" fill="#e8a53c" stroke="none" stroke-width="1"/>
<path d="M472.6,457.6 C474.6,453.5 479.4,439.1 484.4,432.8 C489.4,426.5 496.6,424.3 502.7,419.6 C508.8,414.9 515.1,409.1 521.0,404.7 C526.9,400.3 535.2,395.4 538.0,393.5" fill="none" stroke="#3c84c2" stroke-width="2.6"/>
<path d="M542.2,390.7 L538.0,398.9 L533.0,391.4 Z" fill="#3c84c2" stroke="none" stroke-width="1"/>
<path d="M507.7,458.7 C510.1,455.6 517.0,446.5 522.0,440.0 C527.0,433.5 533.3,426.3 537.8,419.6 C542.3,412.9 547.1,403.3 549.0,400.0" fill="none" stroke="#3c84c2" stroke-width="2.6"/>
<path d="M551.5,395.7 L551.4,404.8 L543.6,400.4 Z" fill="#3c84c2" stroke="none" stroke-width="1"/>
<path d="M553.0,457.6 C554.0,454.3 557.4,444.3 559.0,438.0 C560.6,431.7 562.1,425.7 562.6,419.6 C563.1,413.5 562.1,404.5 562.0,401.5" fill="none" stroke="#3c84c2" stroke-width="2.6"/>
<path d="M561.8,396.5 L566.6,404.3 L557.6,404.6 Z" fill="#3c84c2" stroke="none" stroke-width="1"/>
<path d="M594.0,458.7 C593.8,455.6 594.0,446.5 593.0,440.0 C592.0,433.5 590.2,426.6 588.0,419.6 C585.8,412.6 582.8,402.5 580.0,398.0 C577.2,393.5 572.5,393.4 571.0,392.5" fill="none" stroke="#e8a53c" stroke-width="2.6"/>
<path d="M566.7,389.9 L575.9,390.2 L571.2,397.9 Z" fill="#e8a53c" stroke="none" stroke-width="1"/>
<circle cx="464.0" cy="457.6" r="3.3" fill="#e8a53c"/>
<circle cx="472.6" cy="457.6" r="3.3" fill="#3c84c2"/>
<circle cx="507.7" cy="458.7" r="3.3" fill="#3c84c2"/>
<circle cx="553.0" cy="457.6" r="3.3" fill="#3c84c2"/>
<circle cx="594.0" cy="458.7" r="3.3" fill="#e8a53c"/>
<circle cx="475.4" cy="419.6" r="6" fill="#e9a232" stroke="#503410" stroke-width="1"/>
<path d="M472.2,419.6 h6.4 M475.4,416.4 v6.4" fill="none" stroke="#141414" stroke-width="1.8"/>
<circle cx="502.7" cy="419.6" r="6" fill="#72acdc" stroke="#22405e" stroke-width="1"/>
<path d="M499.5,419.6 h6.4" fill="none" stroke="#14202c" stroke-width="1.8"/>
<circle cx="537.8" cy="419.6" r="6" fill="#72acdc" stroke="#22405e" stroke-width="1"/>
<path d="M534.6,419.6 h6.4" fill="none" stroke="#14202c" stroke-width="1.8"/>
<circle cx="562.6" cy="419.6" r="6" fill="#72acdc" stroke="#22405e" stroke-width="1"/>
<path d="M559.4,419.6 h6.4" fill="none" stroke="#14202c" stroke-width="1.8"/>
<circle cx="588.0" cy="419.6" r="6" fill="#e9a232" stroke="#503410" stroke-width="1"/>
<path d="M584.8,419.6 h6.4 M588.0,416.4 v6.4" fill="none" stroke="#141414" stroke-width="1.8"/>
<circle cx="535.0" cy="367.3" r="6" fill="#72acdc" stroke="#22405e" stroke-width="1"/>
<path d="M531.8,367.3 h6.4" fill="none" stroke="#14202c" stroke-width="1.8"/>
<path d="M458,383 L506,387 M562,382 L612,383 M572,364 L612,361 M486,262 L503,285 M643,293 L632,266 M716,256 L697,243" fill="none" stroke="#666" stroke-width="0.8"/>
<path d="M719.5,309 C706,290 696,274 692.5,258" fill="none" stroke="#111" stroke-width="2.6"/>
<path d="M687,261 L691.5,248 L698,260Z" fill="#111" stroke="none" stroke-width="1"/>
<text x="140.7" y="198.3" font-size="12.4" text-anchor="start" font-weight="normal" stroke="#3a3836" stroke-width="0.2">Hormonal</text>
<text x="140.7" y="210.4" font-size="12.4" text-anchor="start" font-weight="normal" stroke="#3a3836" stroke-width="0.2">signals</text>
<text x="278.3" y="176.0" font-size="12.4" text-anchor="start" font-weight="normal" stroke="#3a3836" stroke-width="0.2">Vagus nerve</text>
<text x="289.0" y="203.0" font-size="12.4" text-anchor="start" font-weight="normal" stroke="#3a3836" stroke-width="0.2">Spinal nerves</text>
<text x="116.0" y="345.0" font-size="12.4" text-anchor="start" font-weight="normal" stroke="#3a3836" stroke-width="0.2">Leptin</text>
<text x="116.0" y="372.0" font-size="12.4" text-anchor="start" font-weight="normal" stroke="#3a3836" stroke-width="0.2">Insulin</text>
<text x="116.0" y="398.0" font-size="12.4" text-anchor="start" font-weight="normal" stroke="#3a3836" stroke-width="0.2">Ghrelin</text>
<text x="116.0" y="430.0" font-size="12.4" text-anchor="start" font-weight="normal" stroke="#3a3836" stroke-width="0.2">PYY<tspan font-size="7.6" dy="3.6" stroke-width="0.1">3-36</tspan></text>
<text x="645" y="87" font-size="12.4" stroke="#f4f4f4" stroke-width="3" stroke-linejoin="round" fill="#f4f4f4">Hypothalamus</text>
<text x="645.0" y="87.0" font-size="12.4" text-anchor="start" font-weight="normal" stroke="#3a3836" stroke-width="0.2">Hypothalamus</text>
<text x="469.0" y="249.5" font-size="12.4" text-anchor="start" font-weight="normal" stroke="#3a3836" stroke-width="0.2">Second-order</text>
<text x="469.0" y="262.0" font-size="12.4" text-anchor="start" font-weight="normal" stroke="#3a3836" stroke-width="0.2">neuron</text>
<text x="498.5" y="327.7" font-size="12.4" text-anchor="end" font-weight="normal" stroke="#3a3836" stroke-width="0.55">Decreased</text>
<text x="498.5" y="339.9" font-size="12.4" text-anchor="end" font-weight="normal" stroke="#3a3836" stroke-width="0.55">food</text>
<text x="498.5" y="352.1" font-size="12.4" text-anchor="end" font-weight="normal" stroke="#3a3836" stroke-width="0.55">intake</text>
<text x="549.0" y="327.7" font-size="12.4" text-anchor="start" font-weight="normal" stroke="#3a3836" stroke-width="0.55">Increased</text>
<text x="549.0" y="339.9" font-size="12.4" text-anchor="start" font-weight="normal" stroke="#3a3836" stroke-width="0.55">food</text>
<text x="549.0" y="352.1" font-size="12.4" text-anchor="start" font-weight="normal" stroke="#3a3836" stroke-width="0.55">intake</text>
<text x="424.8" y="385.0" font-size="12.4" text-anchor="start" font-weight="normal" stroke="#3a3836" stroke-width="0.2">POMC</text>
<text x="424.8" y="396.5" font-size="12.4" text-anchor="start" font-weight="normal" stroke="#3a3836" stroke-width="0.2">neuron</text>
<text x="613.6" y="361.4" font-size="12.4" text-anchor="start" font-weight="normal" stroke="#3a3836" stroke-width="0.2">Arcuate nucleus</text>
<text x="613.6" y="383.4" font-size="12.4" text-anchor="start" font-weight="normal" stroke="#3a3836" stroke-width="0.2">NPY neuron</text>
<text x="611.0" y="298.0" font-size="12.4" text-anchor="start" font-weight="normal" stroke="#3a3836" stroke-width="0.2">Hunger/satiety</text>
<text x="611.0" y="309.7" font-size="12.4" text-anchor="start" font-weight="normal" stroke="#3a3836" stroke-width="0.2">signals</text>
<text x="718.7" y="260.0" font-size="12.4" text-anchor="start" font-weight="normal" stroke="#3a3836" stroke-width="0.2">Nucleus of</text>
<text x="718.7" y="272.0" font-size="12.4" text-anchor="start" font-weight="normal" stroke="#3a3836" stroke-width="0.2">the solitary</text>
<text x="718.7" y="284.0" font-size="12.4" text-anchor="start" font-weight="normal" stroke="#3a3836" stroke-width="0.2">tract</text>
<text x="711.7" y="325.0" font-size="12.4" text-anchor="start" font-weight="normal" stroke="#3a3836" stroke-width="0.2">Afferents</text>
<text x="711.7" y="336.5" font-size="12.4" text-anchor="start" font-weight="normal" stroke="#3a3836" stroke-width="0.2">from GI tract</text>
<text x="449.0" y="472.0" font-size="12.4" text-anchor="start" font-weight="normal" stroke="#3a3836" stroke-width="0.2">Leptin</text>
<text x="491.4" y="472.0" font-size="12.4" text-anchor="start" font-weight="normal" stroke="#3a3836" stroke-width="0.2">Insulin</text>
<text x="534.5" y="472.0" font-size="12.4" text-anchor="start" font-weight="normal" stroke="#3a3836" stroke-width="0.2">PYY<tspan font-size="7.6" dy="3.6" stroke-width="0.1">3-36</tspan></text>
<text x="577.8" y="472.0" font-size="12.4" text-anchor="start" font-weight="normal" stroke="#3a3836" stroke-width="0.2">Ghrelin</text>
<circle cx="295" cy="548" r="0.9" fill="#888"/>
<path d="M8,612 L225,612" fill="none" stroke="#f5f5f5" stroke-width="1"/>
</svg>
</body></html>
